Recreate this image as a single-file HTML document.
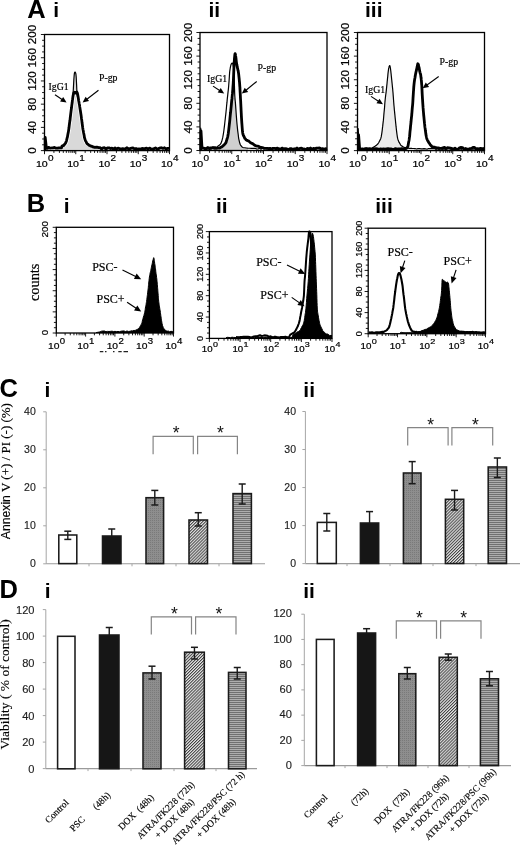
<!DOCTYPE html>
<html><head><meta charset="utf-8"><style>
html,body{margin:0;padding:0;background:#fff;}
body{width:520px;height:846px;overflow:hidden;}
svg{display:block;will-change:transform;}
</style></head><body>
<svg width="520" height="846" viewBox="0 0 520 846">
<defs>
<pattern id="pgray" width="2" height="2" patternUnits="userSpaceOnUse"><rect width="2" height="2" fill="#8e8e8e"/><rect width="1" height="1" fill="#7a7a7a"/></pattern>
<pattern id="phatch" width="2.15" height="2.15" patternUnits="userSpaceOnUse" patternTransform="rotate(45)"><rect width="2.15" height="2.15" fill="#e6e6e6"/><rect width="1.0" height="2.15" fill="#404040"/></pattern>
<pattern id="phoriz" width="4" height="2" patternUnits="userSpaceOnUse"><rect width="4" height="2" fill="#adadad"/><rect width="4" height="1" fill="#707070"/></pattern>
</defs>
<rect width="520" height="846" fill="#fff"/>
<text id="lA" x="27.30" y="17.75" font-family='"Liberation Sans", sans-serif' font-size="25.5" font-weight="bold" text-anchor="start" fill="#000">A</text>
<text id="nAi" x="53.35" y="16.80" font-family='"Liberation Sans", sans-serif' font-size="21" font-weight="bold" text-anchor="start" fill="#000">i</text>
<text id="nAii" x="208.50" y="17.30" font-family='"Liberation Sans", sans-serif' font-size="21" font-weight="bold" text-anchor="start" fill="#000">ii</text>
<text id="nAiii" x="365.00" y="16.80" font-family='"Liberation Sans", sans-serif' font-size="21" font-weight="bold" text-anchor="start" fill="#000">iii</text>
<text id="lB" x="26.75" y="212.30" font-family='"Liberation Sans", sans-serif' font-size="25.5" font-weight="bold" text-anchor="start" fill="#000">B</text>
<text id="nBi" x="63.75" y="212.80" font-family='"Liberation Sans", sans-serif' font-size="21" font-weight="bold" text-anchor="start" fill="#000">i</text>
<text id="nBii" x="216.00" y="212.50" font-family='"Liberation Sans", sans-serif' font-size="21" font-weight="bold" text-anchor="start" fill="#000">ii</text>
<text id="nBiii" x="375.25" y="212.50" font-family='"Liberation Sans", sans-serif' font-size="21" font-weight="bold" text-anchor="start" fill="#000">iii</text>
<text id="lC" x="-0.55" y="396.50" font-family='"Liberation Sans", sans-serif' font-size="25.5" font-weight="bold" text-anchor="start" fill="#000">C</text>
<text id="nCi" x="44.60" y="397.35" font-family='"Liberation Sans", sans-serif' font-size="21" font-weight="bold" text-anchor="start" fill="#000">i</text>
<text id="nCii" x="303.35" y="397.00" font-family='"Liberation Sans", sans-serif' font-size="21" font-weight="bold" text-anchor="start" fill="#000">ii</text>
<text id="lD" x="-0.55" y="597.75" font-family='"Liberation Sans", sans-serif' font-size="25.5" font-weight="bold" text-anchor="start" fill="#000">D</text>
<text id="nDi" x="44.80" y="597.80" font-family='"Liberation Sans", sans-serif' font-size="21" font-weight="bold" text-anchor="start" fill="#000">i</text>
<text id="nDii" x="303.25" y="598.40" font-family='"Liberation Sans", sans-serif' font-size="21" font-weight="bold" text-anchor="start" fill="#000">ii</text>
<path d="M45.20,150.40L45.20,137.50L46.20,146.50L47.50,148.30L48.50,147.40L50.00,148.03L51.50,147.96L53.00,147.77L54.50,147.46L56.00,148.15L57.50,148.17L59.00,147.81L60.50,147.81L61.50,147.80L62.00,146.10L62.37,145.93L62.91,145.73L63.49,145.48L64.00,144.86L64.41,144.43L64.79,144.03L65.15,143.72L65.50,142.86L65.84,142.37L66.17,141.53L66.49,140.41L66.80,139.51L67.11,138.27L67.42,136.90L67.72,135.69L68.00,133.84L68.26,132.28L68.51,131.05L68.75,129.18L69.00,127.38L69.25,125.64L69.50,123.79L69.75,122.12L70.00,119.88L70.25,117.92L70.50,116.07L70.75,114.03L71.00,112.18L71.25,110.11L71.51,107.88L71.76,105.81L72.00,104.13L72.22,102.42L72.42,100.37L72.62,98.96L72.80,97.15L72.97,94.95L73.12,92.51L73.26,90.42L73.40,88.09L73.53,85.56L73.65,83.38L73.77,80.94L73.90,78.82L74.04,77.05L74.18,75.30L74.33,73.84L74.50,72.86L74.71,72.31L74.94,72.12L75.18,72.19L75.40,72.50L75.59,72.92L75.78,73.48L75.94,74.47L76.10,76.05L76.24,77.90L76.36,80.24L76.48,82.46L76.60,84.88L76.71,87.49L76.81,89.73L76.93,92.04L77.10,93.84L77.33,95.69L77.61,97.41L77.91,98.70L78.20,100.20L78.48,101.16L78.76,102.45L79.03,103.79L79.30,104.98L79.56,106.62L79.81,108.15L80.05,109.65L80.30,111.34L80.55,113.40L80.80,114.79L81.05,116.58L81.30,118.43L81.55,120.45L81.80,122.42L82.05,124.17L82.30,126.00L82.54,127.82L82.78,129.25L83.03,130.88L83.30,132.55L83.59,134.14L83.91,135.47L84.24,137.00L84.60,138.36L84.97,139.76L85.36,140.78L85.80,141.82L86.30,142.61L86.87,143.22L87.51,144.16L88.21,144.91L89.00,145.24L89.84,145.59L90.73,146.13L91.76,146.42L93.00,146.67L94.70,146.87L96.75,147.09L98.67,147.54L100.00,147.32L101.50,149.04L103.00,147.90L104.50,147.73L106.00,149.10L107.50,147.96L109.00,147.87L110.50,148.61L112.00,148.18L113.50,148.95L115.00,148.02L116.50,149.04L118.00,148.15L119.50,148.54L121.00,149.00L122.50,148.66L124.00,148.99L125.50,148.69L127.00,147.77L128.50,148.93L130.00,148.53L131.50,148.13L133.00,147.97L134.50,148.89L136.00,148.52L137.50,149.01L139.00,148.78L140.50,149.05L142.00,148.49L143.50,148.68L145.00,148.56L146.50,148.06L148.00,149.04L149.50,148.14L151.00,148.79L152.50,149.04L154.00,148.61L155.50,147.90L157.00,148.86L158.50,148.63L160.00,147.96L161.50,147.77L163.00,148.44L164.50,147.75L166.00,149.00L167.50,148.41L169.00,148.42L169.50,148.40L169.50,150.60L45.20,150.60Z" fill="#d9d9d9" stroke="none"/>
<path d="M64.00,145.00L64.41,144.74L64.79,143.86L65.15,143.63L65.50,143.24L65.84,142.29L66.17,141.78L66.49,140.82L66.80,139.41L67.11,137.94L67.42,137.12L67.72,135.23L68.00,133.66L68.26,132.63L68.51,131.11L68.75,129.45L69.00,127.82L69.25,125.50L69.50,123.55L69.75,121.67L70.00,120.33L70.25,117.76L70.50,115.79L70.75,113.68L71.00,111.68L71.25,109.64L71.51,107.80L71.76,105.66L72.00,103.87L72.21,102.51L72.41,100.27L72.60,99.13L72.80,97.67L73.00,96.31L73.19,95.22L73.39,94.43L73.60,93.56L73.84,92.77L74.09,92.49L74.35,92.22L74.60,92.23L74.85,92.72L75.10,92.57L75.35,92.58L75.60,92.98L75.85,93.07L76.11,92.51L76.36,92.41L76.60,91.91L76.83,92.04L77.06,92.74L77.28,92.77L77.50,93.66L77.72,94.75L77.94,95.91L78.16,97.23L78.40,98.65L78.66,100.75L78.94,102.05L79.23,103.76L79.50,104.99L79.76,106.90L80.01,108.44L80.25,109.91L80.50,111.52L80.75,113.21L81.00,114.75L81.25,116.62L81.50,118.66L81.75,120.15L82.00,122.53L82.25,124.19L82.50,126.07L82.74,127.93L82.98,129.45L83.23,130.68L83.50,132.32L83.79,133.73L84.11,135.33L84.44,137.47L84.80,138.57L85.18,140.00L85.57,140.90L86.01,141.50L86.50,142.83L87.03,143.61L87.61,144.03" fill="none" stroke="#fff" stroke-width="4.3" stroke-linejoin="round" stroke-linecap="butt"/>
<path d="M45.20,150.40L45.20,137.50L46.20,146.50L47.50,148.30L48.50,147.40L50.00,148.03L51.50,147.96L53.00,147.77L54.50,147.46L56.00,148.15L57.50,148.17L59.00,147.81L60.50,147.81L61.50,147.80L62.00,146.00L62.37,145.88L62.91,145.64L63.49,145.68L64.00,145.00L64.41,144.74L64.79,143.86L65.15,143.63L65.50,143.24L65.84,142.29L66.17,141.78L66.49,140.82L66.80,139.41L67.11,137.94L67.42,137.12L67.72,135.23L68.00,133.66L68.26,132.63L68.51,131.11L68.75,129.45L69.00,127.82L69.25,125.50L69.50,123.55L69.75,121.67L70.00,120.33L70.25,117.76L70.50,115.79L70.75,113.68L71.00,111.68L71.25,109.64L71.51,107.80L71.76,105.66L72.00,103.87L72.21,102.51L72.41,100.27L72.60,99.13L72.80,97.67L73.00,96.31L73.19,95.22L73.39,94.43L73.60,93.56L73.84,92.77L74.09,92.49L74.35,92.22L74.60,92.23L74.85,92.72L75.10,92.57L75.35,92.58L75.60,92.98L75.85,93.07L76.11,92.51L76.36,92.41L76.60,91.91L76.83,92.04L77.06,92.74L77.28,92.77L77.50,93.66L77.72,94.75L77.94,95.91L78.16,97.23L78.40,98.65L78.66,100.75L78.94,102.05L79.23,103.76L79.50,104.99L79.76,106.90L80.01,108.44L80.25,109.91L80.50,111.52L80.75,113.21L81.00,114.75L81.25,116.62L81.50,118.66L81.75,120.15L82.00,122.53L82.25,124.19L82.50,126.07L82.74,127.93L82.98,129.45L83.23,130.68L83.50,132.32L83.79,133.73L84.11,135.33L84.44,137.47L84.80,138.57L85.18,140.00L85.57,140.90L86.01,141.50L86.50,142.83L87.03,143.61L87.61,144.03L88.25,144.43L89.00,145.17L89.82,145.55L90.72,146.09L91.75,146.22L93.00,146.95L94.70,147.38L96.75,147.04L98.67,147.59L100.00,147.56L101.50,149.04L103.00,147.90L104.50,147.73L106.00,149.10L107.50,147.96L109.00,147.87L110.50,148.61L112.00,148.18L113.50,148.95L115.00,148.02L116.50,149.04L118.00,148.15L119.50,148.54L121.00,149.00L122.50,148.66L124.00,148.99L125.50,148.69L127.00,147.77L128.50,148.93L130.00,148.53L131.50,148.13L133.00,147.97L134.50,148.89L136.00,148.52L137.50,149.01L139.00,148.78L140.50,149.05L142.00,148.49L143.50,148.68L145.00,148.56L146.50,148.06L148.00,149.04L149.50,148.14L151.00,148.79L152.50,149.04L154.00,148.61L155.50,147.90L157.00,148.86L158.50,148.63L160.00,147.96L161.50,147.77L163.00,148.44L164.50,147.75L166.00,149.00L167.50,148.41L169.00,148.42L169.50,148.40" fill="none" stroke="#000" stroke-width="2.8" stroke-linejoin="round" stroke-linecap="butt"/>
<path d="M72.00,104.13L72.22,102.42L72.42,100.37L72.62,98.96L72.80,97.15L72.97,94.95L73.12,92.51L73.26,90.42L73.40,88.09L73.53,85.56L73.65,83.38L73.77,80.94L73.90,78.82L74.04,77.05L74.18,75.30L74.33,73.84L74.50,72.86L74.71,72.31L74.94,72.12L75.18,72.19L75.40,72.50L75.59,72.92L75.78,73.48L75.94,74.47L76.10,76.05L76.24,77.90L76.36,80.24L76.48,82.46L76.60,84.88L76.71,87.49L76.81,89.73L76.93,92.04L77.10,93.84L77.33,95.69L77.61,97.41L77.91,98.70" fill="none" stroke="#000" stroke-width="1.2" stroke-linejoin="round" stroke-linecap="butt"/>
<rect x="44.5" y="34.5" width="125.00" height="116.10" fill="none" stroke="#000" stroke-width="1.3"/>
<line x1="40.90" y1="150.60" x2="44.50" y2="150.60" stroke="#000" stroke-width="0.9"/>
<line x1="42.10" y1="144.79" x2="44.50" y2="144.79" stroke="#000" stroke-width="0.9"/>
<line x1="42.10" y1="138.99" x2="44.50" y2="138.99" stroke="#000" stroke-width="0.9"/>
<line x1="42.10" y1="133.19" x2="44.50" y2="133.19" stroke="#000" stroke-width="0.9"/>
<line x1="40.90" y1="127.38" x2="44.50" y2="127.38" stroke="#000" stroke-width="0.9"/>
<line x1="42.10" y1="121.57" x2="44.50" y2="121.57" stroke="#000" stroke-width="0.9"/>
<line x1="42.10" y1="115.77" x2="44.50" y2="115.77" stroke="#000" stroke-width="0.9"/>
<line x1="42.10" y1="109.97" x2="44.50" y2="109.97" stroke="#000" stroke-width="0.9"/>
<line x1="40.90" y1="104.16" x2="44.50" y2="104.16" stroke="#000" stroke-width="0.9"/>
<line x1="42.10" y1="98.35" x2="44.50" y2="98.35" stroke="#000" stroke-width="0.9"/>
<line x1="42.10" y1="92.55" x2="44.50" y2="92.55" stroke="#000" stroke-width="0.9"/>
<line x1="42.10" y1="86.75" x2="44.50" y2="86.75" stroke="#000" stroke-width="0.9"/>
<line x1="40.90" y1="80.94" x2="44.50" y2="80.94" stroke="#000" stroke-width="0.9"/>
<line x1="42.10" y1="75.13" x2="44.50" y2="75.13" stroke="#000" stroke-width="0.9"/>
<line x1="42.10" y1="69.33" x2="44.50" y2="69.33" stroke="#000" stroke-width="0.9"/>
<line x1="42.10" y1="63.52" x2="44.50" y2="63.52" stroke="#000" stroke-width="0.9"/>
<line x1="40.90" y1="57.72" x2="44.50" y2="57.72" stroke="#000" stroke-width="0.9"/>
<line x1="42.10" y1="51.91" x2="44.50" y2="51.91" stroke="#000" stroke-width="0.9"/>
<line x1="42.10" y1="46.11" x2="44.50" y2="46.11" stroke="#000" stroke-width="0.9"/>
<line x1="42.10" y1="40.30" x2="44.50" y2="40.30" stroke="#000" stroke-width="0.9"/>
<line x1="40.90" y1="34.50" x2="44.50" y2="34.50" stroke="#000" stroke-width="0.9"/>
<text transform="translate(36.20 150.60) rotate(-90) scale(1.17 1)" x="0" y="0" font-family='"Liberation Sans", sans-serif' font-size="10" text-anchor="middle" stroke="#000" stroke-width="0.2">0</text>
<text transform="translate(36.20 127.38) rotate(-90) scale(1.17 1)" x="0" y="0" font-family='"Liberation Sans", sans-serif' font-size="10" text-anchor="middle" stroke="#000" stroke-width="0.2">40</text>
<text transform="translate(36.20 104.16) rotate(-90) scale(1.17 1)" x="0" y="0" font-family='"Liberation Sans", sans-serif' font-size="10" text-anchor="middle" stroke="#000" stroke-width="0.2">80</text>
<text transform="translate(36.20 80.94) rotate(-90) scale(1.17 1)" x="0" y="0" font-family='"Liberation Sans", sans-serif' font-size="10" text-anchor="middle" stroke="#000" stroke-width="0.2">120</text>
<text transform="translate(36.20 57.72) rotate(-90) scale(1.17 1)" x="0" y="0" font-family='"Liberation Sans", sans-serif' font-size="10" text-anchor="middle" stroke="#000" stroke-width="0.2">160</text>
<text transform="translate(36.20 34.50) rotate(-90) scale(1.17 1)" x="0" y="0" font-family='"Liberation Sans", sans-serif' font-size="10" text-anchor="middle" stroke="#000" stroke-width="0.2">200</text>
<line x1="44.50" y1="150.60" x2="44.50" y2="154.20" stroke="#000" stroke-width="0.9"/>
<line x1="53.91" y1="150.60" x2="53.91" y2="152.90" stroke="#000" stroke-width="0.9"/>
<line x1="59.41" y1="150.60" x2="59.41" y2="152.90" stroke="#000" stroke-width="0.9"/>
<line x1="63.31" y1="150.60" x2="63.31" y2="152.90" stroke="#000" stroke-width="0.9"/>
<line x1="66.34" y1="150.60" x2="66.34" y2="152.90" stroke="#000" stroke-width="0.9"/>
<line x1="68.82" y1="150.60" x2="68.82" y2="152.90" stroke="#000" stroke-width="0.9"/>
<line x1="70.91" y1="150.60" x2="70.91" y2="152.90" stroke="#000" stroke-width="0.9"/>
<line x1="72.72" y1="150.60" x2="72.72" y2="152.90" stroke="#000" stroke-width="0.9"/>
<line x1="74.32" y1="150.60" x2="74.32" y2="152.90" stroke="#000" stroke-width="0.9"/>
<line x1="75.75" y1="150.60" x2="75.75" y2="154.20" stroke="#000" stroke-width="0.9"/>
<line x1="85.16" y1="150.60" x2="85.16" y2="152.90" stroke="#000" stroke-width="0.9"/>
<line x1="90.66" y1="150.60" x2="90.66" y2="152.90" stroke="#000" stroke-width="0.9"/>
<line x1="94.56" y1="150.60" x2="94.56" y2="152.90" stroke="#000" stroke-width="0.9"/>
<line x1="97.59" y1="150.60" x2="97.59" y2="152.90" stroke="#000" stroke-width="0.9"/>
<line x1="100.07" y1="150.60" x2="100.07" y2="152.90" stroke="#000" stroke-width="0.9"/>
<line x1="102.16" y1="150.60" x2="102.16" y2="152.90" stroke="#000" stroke-width="0.9"/>
<line x1="103.97" y1="150.60" x2="103.97" y2="152.90" stroke="#000" stroke-width="0.9"/>
<line x1="105.57" y1="150.60" x2="105.57" y2="152.90" stroke="#000" stroke-width="0.9"/>
<line x1="107.00" y1="150.60" x2="107.00" y2="154.20" stroke="#000" stroke-width="0.9"/>
<line x1="116.41" y1="150.60" x2="116.41" y2="152.90" stroke="#000" stroke-width="0.9"/>
<line x1="121.91" y1="150.60" x2="121.91" y2="152.90" stroke="#000" stroke-width="0.9"/>
<line x1="125.81" y1="150.60" x2="125.81" y2="152.90" stroke="#000" stroke-width="0.9"/>
<line x1="128.84" y1="150.60" x2="128.84" y2="152.90" stroke="#000" stroke-width="0.9"/>
<line x1="131.32" y1="150.60" x2="131.32" y2="152.90" stroke="#000" stroke-width="0.9"/>
<line x1="133.41" y1="150.60" x2="133.41" y2="152.90" stroke="#000" stroke-width="0.9"/>
<line x1="135.22" y1="150.60" x2="135.22" y2="152.90" stroke="#000" stroke-width="0.9"/>
<line x1="136.82" y1="150.60" x2="136.82" y2="152.90" stroke="#000" stroke-width="0.9"/>
<line x1="138.25" y1="150.60" x2="138.25" y2="154.20" stroke="#000" stroke-width="0.9"/>
<line x1="147.66" y1="150.60" x2="147.66" y2="152.90" stroke="#000" stroke-width="0.9"/>
<line x1="153.16" y1="150.60" x2="153.16" y2="152.90" stroke="#000" stroke-width="0.9"/>
<line x1="157.06" y1="150.60" x2="157.06" y2="152.90" stroke="#000" stroke-width="0.9"/>
<line x1="160.09" y1="150.60" x2="160.09" y2="152.90" stroke="#000" stroke-width="0.9"/>
<line x1="162.57" y1="150.60" x2="162.57" y2="152.90" stroke="#000" stroke-width="0.9"/>
<line x1="164.66" y1="150.60" x2="164.66" y2="152.90" stroke="#000" stroke-width="0.9"/>
<line x1="166.47" y1="150.60" x2="166.47" y2="152.90" stroke="#000" stroke-width="0.9"/>
<line x1="168.07" y1="150.60" x2="168.07" y2="152.90" stroke="#000" stroke-width="0.9"/>
<line x1="169.50" y1="150.60" x2="169.50" y2="154.20" stroke="#000" stroke-width="0.9"/>
<text transform="translate(47.70 166.90) rotate(0) scale(1.22 1)" x="0" y="0" font-family='"Liberation Sans", sans-serif' font-size="8.7" text-anchor="end" stroke="#000" stroke-width="0.2">10</text>
<text transform="translate(48.00 161.20) rotate(0) scale(1.22 1)" x="0" y="0" font-family='"Liberation Sans", sans-serif' font-size="8.2" text-anchor="start" stroke="#000" stroke-width="0.2">0</text>
<text transform="translate(78.95 166.90) rotate(0) scale(1.22 1)" x="0" y="0" font-family='"Liberation Sans", sans-serif' font-size="8.7" text-anchor="end" stroke="#000" stroke-width="0.2">10</text>
<text transform="translate(79.25 161.20) rotate(0) scale(1.22 1)" x="0" y="0" font-family='"Liberation Sans", sans-serif' font-size="8.2" text-anchor="start" stroke="#000" stroke-width="0.2">1</text>
<text transform="translate(110.20 166.90) rotate(0) scale(1.22 1)" x="0" y="0" font-family='"Liberation Sans", sans-serif' font-size="8.7" text-anchor="end" stroke="#000" stroke-width="0.2">10</text>
<text transform="translate(110.50 161.20) rotate(0) scale(1.22 1)" x="0" y="0" font-family='"Liberation Sans", sans-serif' font-size="8.2" text-anchor="start" stroke="#000" stroke-width="0.2">2</text>
<text transform="translate(141.45 166.90) rotate(0) scale(1.22 1)" x="0" y="0" font-family='"Liberation Sans", sans-serif' font-size="8.7" text-anchor="end" stroke="#000" stroke-width="0.2">10</text>
<text transform="translate(141.75 161.20) rotate(0) scale(1.22 1)" x="0" y="0" font-family='"Liberation Sans", sans-serif' font-size="8.2" text-anchor="start" stroke="#000" stroke-width="0.2">3</text>
<text transform="translate(172.70 166.90) rotate(0) scale(1.22 1)" x="0" y="0" font-family='"Liberation Sans", sans-serif' font-size="8.7" text-anchor="end" stroke="#000" stroke-width="0.2">10</text>
<text transform="translate(173.00 161.20) rotate(0) scale(1.22 1)" x="0" y="0" font-family='"Liberation Sans", sans-serif' font-size="8.2" text-anchor="start" stroke="#000" stroke-width="0.2">4</text>
<text id="tAi1" x="48.50" y="90.00" font-family='"Liberation Serif", serif' font-size="9.8" font-weight="normal" text-anchor="start" fill="#000" stroke="#000" stroke-width="0.2">IgG1</text>
<text id="tAi2" x="99.00" y="80.80" font-family='"Liberation Serif", serif' font-size="9.8" font-weight="normal" text-anchor="start" fill="#000" stroke="#000" stroke-width="0.2">P-gp</text>
<line x1="55.00" y1="94.80" x2="62.45" y2="99.81" stroke="#000" stroke-width="1.1"/>
<polygon points="66.60,102.60 60.06,101.58 63.18,96.93" fill="#000"/>
<line x1="98.50" y1="90.20" x2="86.54" y2="99.53" stroke="#000" stroke-width="1.1"/>
<polygon points="82.60,102.60 85.61,96.70 89.05,101.12" fill="#000"/>
<path d="M219.00,148.00L219.25,147.94L219.50,147.88L219.75,147.82L220.00,147.77L220.25,147.58L220.50,147.40L220.75,147.21L221.00,147.10L221.25,147.11L221.50,147.13L221.75,147.07L222.00,146.79L222.25,146.51L222.50,146.27L222.75,146.07L223.00,145.86L223.25,145.61L223.50,145.36L223.75,145.22L224.00,145.13L224.25,144.85L224.50,144.44L224.75,144.12L225.00,143.84L225.25,143.60L225.50,143.32L225.75,142.95L226.00,142.42L226.25,141.70L226.50,140.71L226.75,139.92L227.00,139.12L227.25,138.30L227.50,137.43L227.75,136.44L228.00,135.12L228.25,133.62L228.50,131.59L228.75,129.64L229.00,127.40L229.25,125.13L229.50,123.02L229.75,120.63L230.00,117.97L230.25,115.41L230.50,113.04L230.75,110.60L231.00,108.17L231.25,105.63L231.50,102.79L231.75,100.32L232.00,98.33L232.25,98.00L232.50,98.00L232.75,98.00L233.00,98.00L233.25,98.00L233.50,98.00L233.75,98.00L234.00,98.00L234.25,98.00L234.50,98.00L234.75,98.00L235.00,98.66L235.25,101.12L235.50,104.00L235.75,107.44L236.00,111.02L236.25,114.72L236.50,118.02L236.75,121.13L237.00,124.00L237.25,126.41L237.50,128.95L237.75,131.13L238.00,132.99L238.25,134.85L238.50,136.94L238.75,138.73L239.00,139.93L239.25,141.01L239.50,142.04L239.75,143.01L240.00,143.92L240.25,144.51L240.50,145.05L240.75,145.38L241.00,145.71L241.25,146.04L241.50,146.38L241.75,146.62L242.00,146.83L242.25,147.03L242.50,147.18L242.75,147.33L243.00,147.49L243.25,147.55L243.50,147.62L243.75,147.69L244.00,147.73L244.25,147.74L244.50,147.74L244.75,147.75L245.00,147.76L245.25,147.82L245.50,147.88L245.75,147.93L246.00,147.99L246.25,148.03L246.50,148.06L246.75,148.09L247.00,148.11L247.25,148.14L247.50,148.17L247.75,148.18L248.00,148.19L248.00,149.90L219.00,149.90Z" fill="#d0d0d0"/>
<path d="M200.70,150.30L200.70,128.00L201.70,147.50L203.00,147.81L204.50,147.84L206.00,147.77L207.50,146.80L209.00,147.41L210.50,147.21L212.00,147.34L213.50,146.86L215.00,146.93L216.50,147.23L217.00,147.30L218.00,146.03L218.37,145.81L218.91,145.53L219.49,144.89L220.00,144.56L220.41,144.18L220.78,143.69L221.14,142.77L221.50,142.06L221.88,140.84L222.27,139.35L222.65,137.91L223.00,136.01L223.33,134.10L223.64,132.24L223.94,130.03L224.20,127.92L224.42,126.15L224.61,124.56L224.80,122.69L225.00,121.04L225.24,118.96L225.50,116.53L225.76,114.37L226.00,112.17L226.21,109.95L226.41,108.01L226.60,105.82L226.80,103.82L227.00,102.19L227.19,99.91L227.39,97.89L227.60,96.16L227.82,94.12L228.06,91.91L228.29,90.00L228.50,87.90L228.69,85.71L228.87,83.30L229.04,81.21L229.20,78.92L229.35,76.83L229.48,74.66L229.62,72.64L229.80,70.81L230.02,69.52L230.26,67.99L230.53,66.62L230.80,65.35L231.09,64.48L231.40,63.77L231.71,63.37L232.00,63.02L232.27,63.08L232.53,63.24L232.77,63.67L233.00,64.56L233.22,65.50L233.44,66.82L233.63,68.29L233.80,70.02L233.93,71.89L234.03,73.64L234.12,75.63L234.20,77.99L234.28,80.36L234.36,83.11L234.43,85.44L234.50,88.15L234.57,89.95L234.63,92.14L234.70,94.02L234.80,95.93L234.95,98.11L235.12,99.96L235.32,101.72L235.50,104.00L235.67,106.40L235.84,108.69L236.02,111.29L236.20,114.04L236.39,116.62L236.58,119.05L236.78,121.54L237.00,124.00L237.24,126.27L237.49,128.84L237.75,131.10L238.00,132.99L238.24,134.75L238.47,136.71L238.71,138.56L239.00,139.93L239.32,141.30L239.66,142.67L240.04,144.07L240.50,145.05L241.01,145.72L241.56,146.47L242.21,147.01L243.00,147.49L243.91,147.73L244.94,147.75L246.12,148.01L247.50,148.17L249.34,148.26L251.53,148.29L253.58,148.29L255.00,148.30L256.50,148.85L258.00,149.01L259.50,148.22L261.00,149.20L262.50,148.23L264.00,148.81L265.50,148.11L267.00,148.91L268.50,148.18L270.00,148.85L271.50,148.87L273.00,148.92L274.50,148.53L276.00,149.04L277.50,149.19L279.00,148.14L280.50,148.62L282.00,149.15L283.50,148.89L285.00,148.53L286.50,148.37L288.00,149.14L289.50,148.10L291.00,148.91L292.50,149.01L294.00,148.19L295.50,148.39L297.00,148.37L298.50,148.65L300.00,148.44L301.50,149.07L303.00,149.11L304.50,148.38L306.00,149.07L307.50,148.08L309.00,148.12L310.50,148.80L312.00,148.96L313.50,148.98L315.00,149.19L316.50,149.03L318.00,148.32L319.50,148.89L321.00,149.11L322.50,148.11L324.00,148.59L325.50,148.19L327.00,148.60" fill="none" stroke="#000" stroke-width="1.2" stroke-linejoin="round" stroke-linecap="butt"/>
<path d="M200.90,150.30L201.00,131.00L202.00,148.00L203.50,148.15L205.00,148.81L206.50,148.71L208.00,147.96L209.50,148.75L211.00,148.46L212.50,147.75L214.00,148.30L215.00,148.32L215.95,148.23L217.31,148.23L218.77,148.05L220.00,147.77L220.91,147.09L221.69,147.14L222.37,146.37L223.00,145.86L223.58,145.27L224.09,145.10L224.56,144.34L225.00,143.84L225.41,143.44L225.79,142.88L226.15,142.09L226.50,140.71L226.85,139.61L227.19,138.52L227.51,137.40L227.80,136.24L228.06,134.80L228.28,133.43L228.49,131.66L228.70,130.10L228.91,128.17L229.11,126.43L229.31,124.57L229.50,123.02L229.68,121.35L229.85,119.61L230.02,117.74L230.20,115.95L230.39,113.89L230.59,112.28L230.80,110.08L231.00,108.17L231.20,106.19L231.41,103.78L231.61,101.66L231.80,99.85L231.98,98.49L232.16,96.70L232.33,94.73L232.50,93.19L232.66,90.94L232.82,89.26L232.97,86.67L233.10,85.17L233.22,83.52L233.32,81.38L233.41,79.70L233.50,77.74L233.58,76.09L233.66,74.31L233.73,72.61L233.80,70.70L233.87,69.11L233.94,67.22L234.01,65.77L234.10,63.93L234.21,61.98L234.34,60.59L234.47,58.37L234.60,57.02L234.72,55.99L234.84,54.77L234.96,54.13L235.10,53.58L235.26,54.07L235.43,54.32L235.61,55.91L235.80,56.89L235.99,58.34L236.19,60.38L236.39,62.11L236.60,63.39L236.82,64.66L237.04,65.69L237.27,67.19L237.50,68.08L237.75,69.02L238.01,70.43L238.27,71.36L238.50,72.84L238.70,74.41L238.88,76.21L239.04,77.66L239.20,79.03L239.36,80.86L239.52,82.26L239.67,84.36L239.80,86.35L239.91,87.41L240.00,89.55L240.09,91.31L240.20,92.91L240.34,95.67L240.49,98.53L240.65,100.84L240.80,103.98L240.95,107.07L241.10,110.33L241.25,113.02L241.40,116.18L241.55,118.63L241.69,121.00L241.84,123.05L242.00,125.25L242.15,127.24L242.31,129.36L242.48,131.30L242.70,132.93L242.97,134.22L243.27,135.17L243.61,135.86L244.00,136.45L244.40,137.40L244.83,138.49L245.34,138.71L246.00,139.84L246.83,140.36L247.79,140.68L248.86,141.12L250.00,142.27L251.25,143.15L252.61,143.62L253.99,144.77L255.30,145.58L256.53,146.03L257.73,146.08L258.89,146.50L260.00,147.16L261.00,147.40L261.92,147.69L262.88,147.65L264.00,148.27L265.50,148.37L267.25,148.30L268.88,148.67L270.00,148.36L271.50,149.05L273.00,148.28L274.50,148.29L276.00,148.84L277.50,148.08L279.00,149.09L280.50,149.07L282.00,148.06L283.50,148.96L285.00,148.70L286.50,148.89L288.00,149.34L289.50,149.38L291.00,148.57L292.50,149.18L294.00,149.10L295.50,149.36L297.00,148.04L298.50,149.31L300.00,148.31L301.50,148.18L303.00,148.84L304.50,149.17L306.00,149.34L307.50,148.51L309.00,149.16L310.50,148.04L312.00,149.36L313.50,148.41L315.00,148.76L316.50,148.17L318.00,148.06L319.50,148.01L321.00,148.84L322.50,148.79L324.00,149.14L325.50,149.19L327.00,148.70" fill="none" stroke="#000" stroke-width="2.8" stroke-linejoin="round" stroke-linecap="butt"/>
<rect x="200" y="32.5" width="127.00" height="118.00" fill="none" stroke="#000" stroke-width="1.3"/>
<line x1="196.40" y1="150.50" x2="200.00" y2="150.50" stroke="#000" stroke-width="0.9"/>
<line x1="197.60" y1="144.60" x2="200.00" y2="144.60" stroke="#000" stroke-width="0.9"/>
<line x1="197.60" y1="138.70" x2="200.00" y2="138.70" stroke="#000" stroke-width="0.9"/>
<line x1="197.60" y1="132.80" x2="200.00" y2="132.80" stroke="#000" stroke-width="0.9"/>
<line x1="196.40" y1="126.90" x2="200.00" y2="126.90" stroke="#000" stroke-width="0.9"/>
<line x1="197.60" y1="121.00" x2="200.00" y2="121.00" stroke="#000" stroke-width="0.9"/>
<line x1="197.60" y1="115.10" x2="200.00" y2="115.10" stroke="#000" stroke-width="0.9"/>
<line x1="197.60" y1="109.20" x2="200.00" y2="109.20" stroke="#000" stroke-width="0.9"/>
<line x1="196.40" y1="103.30" x2="200.00" y2="103.30" stroke="#000" stroke-width="0.9"/>
<line x1="197.60" y1="97.40" x2="200.00" y2="97.40" stroke="#000" stroke-width="0.9"/>
<line x1="197.60" y1="91.50" x2="200.00" y2="91.50" stroke="#000" stroke-width="0.9"/>
<line x1="197.60" y1="85.60" x2="200.00" y2="85.60" stroke="#000" stroke-width="0.9"/>
<line x1="196.40" y1="79.70" x2="200.00" y2="79.70" stroke="#000" stroke-width="0.9"/>
<line x1="197.60" y1="73.80" x2="200.00" y2="73.80" stroke="#000" stroke-width="0.9"/>
<line x1="197.60" y1="67.90" x2="200.00" y2="67.90" stroke="#000" stroke-width="0.9"/>
<line x1="197.60" y1="62.00" x2="200.00" y2="62.00" stroke="#000" stroke-width="0.9"/>
<line x1="196.40" y1="56.10" x2="200.00" y2="56.10" stroke="#000" stroke-width="0.9"/>
<line x1="197.60" y1="50.20" x2="200.00" y2="50.20" stroke="#000" stroke-width="0.9"/>
<line x1="197.60" y1="44.30" x2="200.00" y2="44.30" stroke="#000" stroke-width="0.9"/>
<line x1="197.60" y1="38.40" x2="200.00" y2="38.40" stroke="#000" stroke-width="0.9"/>
<line x1="196.40" y1="32.50" x2="200.00" y2="32.50" stroke="#000" stroke-width="0.9"/>
<text transform="translate(191.70 150.50) rotate(-90) scale(1.17 1)" x="0" y="0" font-family='"Liberation Sans", sans-serif' font-size="10" text-anchor="middle" stroke="#000" stroke-width="0.2">0</text>
<text transform="translate(191.70 126.90) rotate(-90) scale(1.17 1)" x="0" y="0" font-family='"Liberation Sans", sans-serif' font-size="10" text-anchor="middle" stroke="#000" stroke-width="0.2">40</text>
<text transform="translate(191.70 103.30) rotate(-90) scale(1.17 1)" x="0" y="0" font-family='"Liberation Sans", sans-serif' font-size="10" text-anchor="middle" stroke="#000" stroke-width="0.2">80</text>
<text transform="translate(191.70 79.70) rotate(-90) scale(1.17 1)" x="0" y="0" font-family='"Liberation Sans", sans-serif' font-size="10" text-anchor="middle" stroke="#000" stroke-width="0.2">120</text>
<text transform="translate(191.70 56.10) rotate(-90) scale(1.17 1)" x="0" y="0" font-family='"Liberation Sans", sans-serif' font-size="10" text-anchor="middle" stroke="#000" stroke-width="0.2">160</text>
<text transform="translate(191.70 32.50) rotate(-90) scale(1.17 1)" x="0" y="0" font-family='"Liberation Sans", sans-serif' font-size="10" text-anchor="middle" stroke="#000" stroke-width="0.2">200</text>
<line x1="200.00" y1="150.50" x2="200.00" y2="154.10" stroke="#000" stroke-width="0.9"/>
<line x1="209.56" y1="150.50" x2="209.56" y2="152.80" stroke="#000" stroke-width="0.9"/>
<line x1="215.15" y1="150.50" x2="215.15" y2="152.80" stroke="#000" stroke-width="0.9"/>
<line x1="219.12" y1="150.50" x2="219.12" y2="152.80" stroke="#000" stroke-width="0.9"/>
<line x1="222.19" y1="150.50" x2="222.19" y2="152.80" stroke="#000" stroke-width="0.9"/>
<line x1="224.71" y1="150.50" x2="224.71" y2="152.80" stroke="#000" stroke-width="0.9"/>
<line x1="226.83" y1="150.50" x2="226.83" y2="152.80" stroke="#000" stroke-width="0.9"/>
<line x1="228.67" y1="150.50" x2="228.67" y2="152.80" stroke="#000" stroke-width="0.9"/>
<line x1="230.30" y1="150.50" x2="230.30" y2="152.80" stroke="#000" stroke-width="0.9"/>
<line x1="231.75" y1="150.50" x2="231.75" y2="154.10" stroke="#000" stroke-width="0.9"/>
<line x1="241.31" y1="150.50" x2="241.31" y2="152.80" stroke="#000" stroke-width="0.9"/>
<line x1="246.90" y1="150.50" x2="246.90" y2="152.80" stroke="#000" stroke-width="0.9"/>
<line x1="250.87" y1="150.50" x2="250.87" y2="152.80" stroke="#000" stroke-width="0.9"/>
<line x1="253.94" y1="150.50" x2="253.94" y2="152.80" stroke="#000" stroke-width="0.9"/>
<line x1="256.46" y1="150.50" x2="256.46" y2="152.80" stroke="#000" stroke-width="0.9"/>
<line x1="258.58" y1="150.50" x2="258.58" y2="152.80" stroke="#000" stroke-width="0.9"/>
<line x1="260.42" y1="150.50" x2="260.42" y2="152.80" stroke="#000" stroke-width="0.9"/>
<line x1="262.05" y1="150.50" x2="262.05" y2="152.80" stroke="#000" stroke-width="0.9"/>
<line x1="263.50" y1="150.50" x2="263.50" y2="154.10" stroke="#000" stroke-width="0.9"/>
<line x1="273.06" y1="150.50" x2="273.06" y2="152.80" stroke="#000" stroke-width="0.9"/>
<line x1="278.65" y1="150.50" x2="278.65" y2="152.80" stroke="#000" stroke-width="0.9"/>
<line x1="282.62" y1="150.50" x2="282.62" y2="152.80" stroke="#000" stroke-width="0.9"/>
<line x1="285.69" y1="150.50" x2="285.69" y2="152.80" stroke="#000" stroke-width="0.9"/>
<line x1="288.21" y1="150.50" x2="288.21" y2="152.80" stroke="#000" stroke-width="0.9"/>
<line x1="290.33" y1="150.50" x2="290.33" y2="152.80" stroke="#000" stroke-width="0.9"/>
<line x1="292.17" y1="150.50" x2="292.17" y2="152.80" stroke="#000" stroke-width="0.9"/>
<line x1="293.80" y1="150.50" x2="293.80" y2="152.80" stroke="#000" stroke-width="0.9"/>
<line x1="295.25" y1="150.50" x2="295.25" y2="154.10" stroke="#000" stroke-width="0.9"/>
<line x1="304.81" y1="150.50" x2="304.81" y2="152.80" stroke="#000" stroke-width="0.9"/>
<line x1="310.40" y1="150.50" x2="310.40" y2="152.80" stroke="#000" stroke-width="0.9"/>
<line x1="314.37" y1="150.50" x2="314.37" y2="152.80" stroke="#000" stroke-width="0.9"/>
<line x1="317.44" y1="150.50" x2="317.44" y2="152.80" stroke="#000" stroke-width="0.9"/>
<line x1="319.96" y1="150.50" x2="319.96" y2="152.80" stroke="#000" stroke-width="0.9"/>
<line x1="322.08" y1="150.50" x2="322.08" y2="152.80" stroke="#000" stroke-width="0.9"/>
<line x1="323.92" y1="150.50" x2="323.92" y2="152.80" stroke="#000" stroke-width="0.9"/>
<line x1="325.55" y1="150.50" x2="325.55" y2="152.80" stroke="#000" stroke-width="0.9"/>
<line x1="327.00" y1="150.50" x2="327.00" y2="154.10" stroke="#000" stroke-width="0.9"/>
<text transform="translate(203.20 166.80) rotate(0) scale(1.22 1)" x="0" y="0" font-family='"Liberation Sans", sans-serif' font-size="8.7" text-anchor="end" stroke="#000" stroke-width="0.2">10</text>
<text transform="translate(203.50 161.10) rotate(0) scale(1.22 1)" x="0" y="0" font-family='"Liberation Sans", sans-serif' font-size="8.2" text-anchor="start" stroke="#000" stroke-width="0.2">0</text>
<text transform="translate(234.95 166.80) rotate(0) scale(1.22 1)" x="0" y="0" font-family='"Liberation Sans", sans-serif' font-size="8.7" text-anchor="end" stroke="#000" stroke-width="0.2">10</text>
<text transform="translate(235.25 161.10) rotate(0) scale(1.22 1)" x="0" y="0" font-family='"Liberation Sans", sans-serif' font-size="8.2" text-anchor="start" stroke="#000" stroke-width="0.2">1</text>
<text transform="translate(266.70 166.80) rotate(0) scale(1.22 1)" x="0" y="0" font-family='"Liberation Sans", sans-serif' font-size="8.7" text-anchor="end" stroke="#000" stroke-width="0.2">10</text>
<text transform="translate(267.00 161.10) rotate(0) scale(1.22 1)" x="0" y="0" font-family='"Liberation Sans", sans-serif' font-size="8.2" text-anchor="start" stroke="#000" stroke-width="0.2">2</text>
<text transform="translate(298.45 166.80) rotate(0) scale(1.22 1)" x="0" y="0" font-family='"Liberation Sans", sans-serif' font-size="8.7" text-anchor="end" stroke="#000" stroke-width="0.2">10</text>
<text transform="translate(298.75 161.10) rotate(0) scale(1.22 1)" x="0" y="0" font-family='"Liberation Sans", sans-serif' font-size="8.2" text-anchor="start" stroke="#000" stroke-width="0.2">3</text>
<text transform="translate(330.20 166.80) rotate(0) scale(1.22 1)" x="0" y="0" font-family='"Liberation Sans", sans-serif' font-size="8.7" text-anchor="end" stroke="#000" stroke-width="0.2">10</text>
<text transform="translate(330.50 161.10) rotate(0) scale(1.22 1)" x="0" y="0" font-family='"Liberation Sans", sans-serif' font-size="8.2" text-anchor="start" stroke="#000" stroke-width="0.2">4</text>
<text id="tAii1" x="207.00" y="82.20" font-family='"Liberation Serif", serif' font-size="9.8" font-weight="normal" text-anchor="start" fill="#000" stroke="#000" stroke-width="0.2">IgG1</text>
<text id="tAii2" x="257.60" y="70.50" font-family='"Liberation Serif", serif' font-size="9.8" font-weight="normal" text-anchor="start" fill="#000" stroke="#000" stroke-width="0.2">P-gp</text>
<line x1="213.00" y1="86.10" x2="220.05" y2="90.82" stroke="#000" stroke-width="1.1"/>
<polygon points="224.20,93.60 217.66,92.59 220.77,87.93" fill="#000"/>
<line x1="256.70" y1="81.50" x2="245.68" y2="90.45" stroke="#000" stroke-width="1.1"/>
<polygon points="241.80,93.60 244.69,87.64 248.22,91.99" fill="#000"/>
<path d="M358.20,150.30L358.20,128.70L359.20,147.80L360.50,148.45L362.00,148.50L363.50,148.76L365.00,148.00L366.50,147.87L368.00,148.62L369.50,148.13L371.00,148.30L372.00,148.02L372.20,148.00L372.48,147.86L372.85,147.71L373.30,147.21L373.89,147.11L374.61,146.50L375.34,146.07L376.00,145.60L376.55,145.25L377.06,144.60L377.53,144.20L378.00,143.79L378.48,143.02L378.95,142.26L379.40,141.24L379.80,140.68L380.15,139.67L380.45,139.40L380.73,138.63L381.00,137.61L381.27,136.64L381.53,134.93L381.78,133.43L382.00,131.93L382.20,130.38L382.37,128.88L382.53,127.33L382.70,126.14L382.88,124.33L383.06,122.86L383.24,121.32L383.40,120.16L383.54,118.54L383.66,117.19L383.77,115.78L383.90,114.10L384.05,112.54L384.21,110.99L384.36,109.41L384.50,108.04L384.61,106.75L384.69,105.16L384.78,103.86L384.90,102.46L385.05,100.88L385.23,99.21L385.42,97.55L385.60,95.84L385.78,94.53L385.96,93.37L386.13,91.87L386.30,90.57L386.46,88.93L386.61,87.55L386.75,85.89L386.90,84.61L387.05,83.21L387.19,81.51L387.34,80.35L387.50,78.54L387.69,77.00L387.89,74.61L388.10,72.56L388.30,71.16L388.48,69.72L388.66,68.41L388.83,67.72L389.00,67.13L389.15,66.26L389.30,66.03L389.45,65.57L389.60,65.58L389.77,65.72L389.94,65.94L390.12,66.65L390.30,67.51L390.48,68.66L390.66,70.03L390.83,71.39L391.00,73.04L391.16,74.32L391.31,75.99L391.45,77.10L391.60,78.81L391.75,79.97L391.90,81.61L392.05,82.97L392.20,84.48L392.35,86.06L392.51,87.61L392.66,88.80L392.80,90.65L392.93,92.07L393.06,93.35L393.18,95.09L393.30,96.62L393.40,97.92L393.50,99.57L393.60,100.73L393.70,102.28L393.82,103.62L393.94,105.26L394.07,106.47L394.20,107.90L394.34,109.70L394.49,111.00L394.65,112.57L394.80,114.18L394.95,115.46L395.10,117.18L395.25,118.60L395.40,120.00L395.55,121.61L395.69,123.14L395.84,124.34L396.00,126.18L396.17,127.51L396.34,129.13L396.52,130.58L396.70,132.19L396.89,133.63L397.08,134.97L397.28,136.40L397.50,137.76L397.73,138.70L397.96,139.49L398.22,140.31L398.50,141.00L398.82,141.68L399.16,142.52L399.53,142.94L399.90,143.68L400.26,144.26L400.63,144.87L401.03,145.48L401.50,145.84L402.05,146.03L402.66,146.66L403.32,146.92L404.00,147.27L404.67,147.61L405.34,147.71L406.10,148.15L407.00,148.15L408.23,148.27L409.69,148.42L411.05,148.28L412.00,148.43L413.50,148.51L415.00,148.53L416.50,149.00L418.00,148.58L419.50,148.53L421.00,148.86L422.50,148.82L424.00,148.61L425.50,148.79L427.00,149.24L428.50,148.53L430.00,148.59L431.50,148.43L433.00,148.64L434.50,148.49L436.00,149.38L437.50,148.71L439.00,149.39L440.50,148.53L442.00,149.30L443.50,148.91L445.00,149.09L446.50,149.06L448.00,148.67L449.50,148.63L451.00,149.08L452.50,148.53L454.00,148.41L455.50,149.17L457.00,149.03L458.50,148.66L460.00,148.92L461.50,149.31L463.00,148.68L464.50,148.52L466.00,148.82L467.50,148.57L469.00,148.77L470.50,148.43L472.00,149.16L473.50,149.21L475.00,148.77L476.50,148.78L478.00,148.66L479.50,149.35L481.00,149.28L482.50,149.06L484.00,148.57L484.50,148.90L484.50,150.60L358.20,150.60Z" fill="#ebebeb" stroke="none"/>
<path d="M358.20,150.30L358.20,128.70L359.20,147.80L360.50,148.45L362.00,148.50L363.50,148.76L365.00,148.00L366.50,147.87L368.00,148.62L369.50,148.13L371.00,148.30L372.00,148.02L372.20,148.00L372.48,147.86L372.85,147.71L373.30,147.21L373.89,147.11L374.61,146.50L375.34,146.07L376.00,145.60L376.55,145.25L377.06,144.60L377.53,144.20L378.00,143.79L378.48,143.02L378.95,142.26L379.40,141.24L379.80,140.68L380.15,139.67L380.45,139.40L380.73,138.63L381.00,137.61L381.27,136.64L381.53,134.93L381.78,133.43L382.00,131.93L382.20,130.38L382.37,128.88L382.53,127.33L382.70,126.14L382.88,124.33L383.06,122.86L383.24,121.32L383.40,120.16L383.54,118.54L383.66,117.19L383.77,115.78L383.90,114.10L384.05,112.54L384.21,110.99L384.36,109.41L384.50,108.04L384.61,106.75L384.69,105.16L384.78,103.86L384.90,102.46L385.05,100.88L385.23,99.21L385.42,97.55L385.60,95.84L385.78,94.53L385.96,93.37L386.13,91.87L386.30,90.57L386.46,88.93L386.61,87.55L386.75,85.89L386.90,84.61L387.05,83.21L387.19,81.51L387.34,80.35L387.50,78.54L387.69,77.00L387.89,74.61L388.10,72.56L388.30,71.16L388.48,69.72L388.66,68.41L388.83,67.72L389.00,67.13L389.15,66.26L389.30,66.03L389.45,65.57L389.60,65.58L389.77,65.72L389.94,65.94L390.12,66.65L390.30,67.51L390.48,68.66L390.66,70.03L390.83,71.39L391.00,73.04L391.16,74.32L391.31,75.99L391.45,77.10L391.60,78.81L391.75,79.97L391.90,81.61L392.05,82.97L392.20,84.48L392.35,86.06L392.51,87.61L392.66,88.80L392.80,90.65L392.93,92.07L393.06,93.35L393.18,95.09L393.30,96.62L393.40,97.92L393.50,99.57L393.60,100.73L393.70,102.28L393.82,103.62L393.94,105.26L394.07,106.47L394.20,107.90L394.34,109.70L394.49,111.00L394.65,112.57L394.80,114.18L394.95,115.46L395.10,117.18L395.25,118.60L395.40,120.00L395.55,121.61L395.69,123.14L395.84,124.34L396.00,126.18L396.17,127.51L396.34,129.13L396.52,130.58L396.70,132.19L396.89,133.63L397.08,134.97L397.28,136.40L397.50,137.76L397.73,138.70L397.96,139.49L398.22,140.31L398.50,141.00L398.82,141.68L399.16,142.52L399.53,142.94L399.90,143.68L400.26,144.26L400.63,144.87L401.03,145.48L401.50,145.84L402.05,146.03L402.66,146.66L403.32,146.92L404.00,147.27L404.67,147.61L405.34,147.71L406.10,148.15L407.00,148.15L408.23,148.27L409.69,148.42L411.05,148.28L412.00,148.43L413.50,148.51L415.00,148.53L416.50,149.00L418.00,148.58L419.50,148.53L421.00,148.86L422.50,148.82L424.00,148.61L425.50,148.79L427.00,149.24L428.50,148.53L430.00,148.59L431.50,148.43L433.00,148.64L434.50,148.49L436.00,149.38L437.50,148.71L439.00,149.39L440.50,148.53L442.00,149.30L443.50,148.91L445.00,149.09L446.50,149.06L448.00,148.67L449.50,148.63L451.00,149.08L452.50,148.53L454.00,148.41L455.50,149.17L457.00,149.03L458.50,148.66L460.00,148.92L461.50,149.31L463.00,148.68L464.50,148.52L466.00,148.82L467.50,148.57L469.00,148.77L470.50,148.43L472.00,149.16L473.50,149.21L475.00,148.77L476.50,148.78L478.00,148.66L479.50,149.35L481.00,149.28L482.50,149.06L484.00,148.57L484.50,148.90" fill="none" stroke="#000" stroke-width="1.2" stroke-linejoin="round" stroke-linecap="butt"/>
<path d="M358.40,150.30L358.60,135.00L359.60,148.50L361.00,149.05L362.50,148.85L364.00,149.34L365.50,148.79L367.00,149.01L368.50,148.84L370.00,148.92L371.50,149.47L373.00,148.60L374.50,148.94L376.00,148.72L377.50,148.85L379.00,149.50L380.50,148.83L382.00,149.11L383.50,148.92L385.00,149.23L386.50,148.95L388.00,148.67L389.50,148.93L391.00,148.91L392.50,149.29L394.00,149.06L395.50,148.70L397.00,149.17L398.50,148.80L400.00,149.01L401.50,148.72L403.00,148.91L404.00,149.00L405.00,148.68L405.25,149.00L405.62,148.78L406.02,148.53L406.40,148.20L406.74,148.10L407.09,147.35L407.41,147.55L407.70,146.82L407.93,146.40L408.12,145.22L408.30,144.20L408.50,143.03L408.72,141.83L408.96,140.70L409.19,139.43L409.40,137.59L409.57,136.48L409.72,135.06L409.86,133.21L410.00,131.54L410.15,130.32L410.30,129.04L410.45,127.39L410.60,125.68L410.75,124.57L410.90,122.83L411.05,121.75L411.20,119.77L411.35,118.57L411.51,116.93L411.66,115.84L411.80,113.75L411.93,112.76L412.06,110.93L412.18,109.40L412.30,107.80L412.43,106.59L412.55,105.54L412.68,104.16L412.80,102.51L412.92,100.40L413.04,98.07L413.17,96.12L413.30,94.10L413.44,91.73L413.59,90.03L413.74,87.30L413.90,85.51L414.07,83.87L414.24,82.41L414.42,81.01L414.60,79.82L414.79,78.61L414.98,77.76L415.18,76.27L415.40,75.09L415.66,73.62L415.95,72.21L416.24,71.22L416.50,70.16L416.72,68.59L416.93,67.92L417.11,66.64L417.30,66.13L417.48,65.13L417.65,64.29L417.82,63.80L418.00,64.10L418.20,64.23L418.40,64.56L418.60,65.96L418.80,66.34L418.98,67.17L419.16,67.88L419.33,69.00L419.50,70.04L419.66,71.09L419.81,71.45L419.95,72.33L420.10,72.71L420.25,73.63L420.40,73.74L420.55,74.23L420.70,74.84L420.85,76.25L421.01,77.60L421.16,78.38L421.30,79.97L421.43,81.04L421.56,82.82L421.68,84.36L421.80,85.44L421.90,87.72L422.00,89.56L422.10,91.84L422.20,94.05L422.32,96.03L422.45,98.36L422.58,100.20L422.70,102.20L422.80,103.71L422.90,105.18L423.00,106.34L423.10,107.90L423.22,109.21L423.34,111.07L423.47,112.44L423.60,113.94L423.74,115.78L423.89,116.77L424.05,118.53L424.20,120.08L424.35,121.57L424.49,123.13L424.64,124.31L424.80,126.20L424.98,127.54L425.18,128.66L425.38,130.57L425.60,132.01L425.83,133.81L426.07,135.18L426.33,136.57L426.60,137.82L426.87,138.86L427.16,139.51L427.46,140.28L427.80,141.02L428.19,141.35L428.63,142.33L429.08,142.87L429.50,143.45L429.88,144.11L430.23,144.73L430.59,145.06L431.00,145.65L431.44,145.83L431.91,146.71L432.42,146.82L433.00,147.14L433.66,147.42L434.38,147.13L435.16,147.42L436.00,147.71L437.02,147.90L438.19,147.98L439.26,148.15L440.00,148.29L441.50,148.38L443.00,147.88L444.50,147.36L446.00,148.61L447.50,147.72L449.00,147.81L450.50,148.09L452.00,148.58L453.50,149.28L455.00,148.22L456.50,149.29L458.00,149.29L459.50,147.79L461.00,147.45L462.50,147.62L464.00,148.98L465.50,148.50L467.00,149.13L468.50,149.24L470.00,148.61L471.50,148.37L473.00,147.44L474.50,147.35L476.00,148.91L477.50,148.64L479.00,148.83L480.50,148.43L482.00,148.65L483.50,148.58L484.50,148.30" fill="none" stroke="#000" stroke-width="2.8" stroke-linejoin="round" stroke-linecap="butt"/>
<rect x="357.5" y="32.5" width="127.00" height="118.10" fill="none" stroke="#000" stroke-width="1.3"/>
<line x1="353.90" y1="150.60" x2="357.50" y2="150.60" stroke="#000" stroke-width="0.9"/>
<line x1="355.10" y1="144.69" x2="357.50" y2="144.69" stroke="#000" stroke-width="0.9"/>
<line x1="355.10" y1="138.79" x2="357.50" y2="138.79" stroke="#000" stroke-width="0.9"/>
<line x1="355.10" y1="132.88" x2="357.50" y2="132.88" stroke="#000" stroke-width="0.9"/>
<line x1="353.90" y1="126.98" x2="357.50" y2="126.98" stroke="#000" stroke-width="0.9"/>
<line x1="355.10" y1="121.07" x2="357.50" y2="121.07" stroke="#000" stroke-width="0.9"/>
<line x1="355.10" y1="115.17" x2="357.50" y2="115.17" stroke="#000" stroke-width="0.9"/>
<line x1="355.10" y1="109.26" x2="357.50" y2="109.26" stroke="#000" stroke-width="0.9"/>
<line x1="353.90" y1="103.36" x2="357.50" y2="103.36" stroke="#000" stroke-width="0.9"/>
<line x1="355.10" y1="97.45" x2="357.50" y2="97.45" stroke="#000" stroke-width="0.9"/>
<line x1="355.10" y1="91.55" x2="357.50" y2="91.55" stroke="#000" stroke-width="0.9"/>
<line x1="355.10" y1="85.64" x2="357.50" y2="85.64" stroke="#000" stroke-width="0.9"/>
<line x1="353.90" y1="79.74" x2="357.50" y2="79.74" stroke="#000" stroke-width="0.9"/>
<line x1="355.10" y1="73.83" x2="357.50" y2="73.83" stroke="#000" stroke-width="0.9"/>
<line x1="355.10" y1="67.93" x2="357.50" y2="67.93" stroke="#000" stroke-width="0.9"/>
<line x1="355.10" y1="62.02" x2="357.50" y2="62.02" stroke="#000" stroke-width="0.9"/>
<line x1="353.90" y1="56.12" x2="357.50" y2="56.12" stroke="#000" stroke-width="0.9"/>
<line x1="355.10" y1="50.21" x2="357.50" y2="50.21" stroke="#000" stroke-width="0.9"/>
<line x1="355.10" y1="44.31" x2="357.50" y2="44.31" stroke="#000" stroke-width="0.9"/>
<line x1="355.10" y1="38.41" x2="357.50" y2="38.41" stroke="#000" stroke-width="0.9"/>
<line x1="353.90" y1="32.50" x2="357.50" y2="32.50" stroke="#000" stroke-width="0.9"/>
<text transform="translate(349.20 150.60) rotate(-90) scale(1.17 1)" x="0" y="0" font-family='"Liberation Sans", sans-serif' font-size="10" text-anchor="middle" stroke="#000" stroke-width="0.2">0</text>
<text transform="translate(349.20 126.98) rotate(-90) scale(1.17 1)" x="0" y="0" font-family='"Liberation Sans", sans-serif' font-size="10" text-anchor="middle" stroke="#000" stroke-width="0.2">40</text>
<text transform="translate(349.20 103.36) rotate(-90) scale(1.17 1)" x="0" y="0" font-family='"Liberation Sans", sans-serif' font-size="10" text-anchor="middle" stroke="#000" stroke-width="0.2">80</text>
<text transform="translate(349.20 79.74) rotate(-90) scale(1.17 1)" x="0" y="0" font-family='"Liberation Sans", sans-serif' font-size="10" text-anchor="middle" stroke="#000" stroke-width="0.2">120</text>
<text transform="translate(349.20 56.12) rotate(-90) scale(1.17 1)" x="0" y="0" font-family='"Liberation Sans", sans-serif' font-size="10" text-anchor="middle" stroke="#000" stroke-width="0.2">160</text>
<text transform="translate(349.20 32.50) rotate(-90) scale(1.17 1)" x="0" y="0" font-family='"Liberation Sans", sans-serif' font-size="10" text-anchor="middle" stroke="#000" stroke-width="0.2">200</text>
<line x1="357.50" y1="150.60" x2="357.50" y2="154.20" stroke="#000" stroke-width="0.9"/>
<line x1="367.06" y1="150.60" x2="367.06" y2="152.90" stroke="#000" stroke-width="0.9"/>
<line x1="372.65" y1="150.60" x2="372.65" y2="152.90" stroke="#000" stroke-width="0.9"/>
<line x1="376.62" y1="150.60" x2="376.62" y2="152.90" stroke="#000" stroke-width="0.9"/>
<line x1="379.69" y1="150.60" x2="379.69" y2="152.90" stroke="#000" stroke-width="0.9"/>
<line x1="382.21" y1="150.60" x2="382.21" y2="152.90" stroke="#000" stroke-width="0.9"/>
<line x1="384.33" y1="150.60" x2="384.33" y2="152.90" stroke="#000" stroke-width="0.9"/>
<line x1="386.17" y1="150.60" x2="386.17" y2="152.90" stroke="#000" stroke-width="0.9"/>
<line x1="387.80" y1="150.60" x2="387.80" y2="152.90" stroke="#000" stroke-width="0.9"/>
<line x1="389.25" y1="150.60" x2="389.25" y2="154.20" stroke="#000" stroke-width="0.9"/>
<line x1="398.81" y1="150.60" x2="398.81" y2="152.90" stroke="#000" stroke-width="0.9"/>
<line x1="404.40" y1="150.60" x2="404.40" y2="152.90" stroke="#000" stroke-width="0.9"/>
<line x1="408.37" y1="150.60" x2="408.37" y2="152.90" stroke="#000" stroke-width="0.9"/>
<line x1="411.44" y1="150.60" x2="411.44" y2="152.90" stroke="#000" stroke-width="0.9"/>
<line x1="413.96" y1="150.60" x2="413.96" y2="152.90" stroke="#000" stroke-width="0.9"/>
<line x1="416.08" y1="150.60" x2="416.08" y2="152.90" stroke="#000" stroke-width="0.9"/>
<line x1="417.92" y1="150.60" x2="417.92" y2="152.90" stroke="#000" stroke-width="0.9"/>
<line x1="419.55" y1="150.60" x2="419.55" y2="152.90" stroke="#000" stroke-width="0.9"/>
<line x1="421.00" y1="150.60" x2="421.00" y2="154.20" stroke="#000" stroke-width="0.9"/>
<line x1="430.56" y1="150.60" x2="430.56" y2="152.90" stroke="#000" stroke-width="0.9"/>
<line x1="436.15" y1="150.60" x2="436.15" y2="152.90" stroke="#000" stroke-width="0.9"/>
<line x1="440.12" y1="150.60" x2="440.12" y2="152.90" stroke="#000" stroke-width="0.9"/>
<line x1="443.19" y1="150.60" x2="443.19" y2="152.90" stroke="#000" stroke-width="0.9"/>
<line x1="445.71" y1="150.60" x2="445.71" y2="152.90" stroke="#000" stroke-width="0.9"/>
<line x1="447.83" y1="150.60" x2="447.83" y2="152.90" stroke="#000" stroke-width="0.9"/>
<line x1="449.67" y1="150.60" x2="449.67" y2="152.90" stroke="#000" stroke-width="0.9"/>
<line x1="451.30" y1="150.60" x2="451.30" y2="152.90" stroke="#000" stroke-width="0.9"/>
<line x1="452.75" y1="150.60" x2="452.75" y2="154.20" stroke="#000" stroke-width="0.9"/>
<line x1="462.31" y1="150.60" x2="462.31" y2="152.90" stroke="#000" stroke-width="0.9"/>
<line x1="467.90" y1="150.60" x2="467.90" y2="152.90" stroke="#000" stroke-width="0.9"/>
<line x1="471.87" y1="150.60" x2="471.87" y2="152.90" stroke="#000" stroke-width="0.9"/>
<line x1="474.94" y1="150.60" x2="474.94" y2="152.90" stroke="#000" stroke-width="0.9"/>
<line x1="477.46" y1="150.60" x2="477.46" y2="152.90" stroke="#000" stroke-width="0.9"/>
<line x1="479.58" y1="150.60" x2="479.58" y2="152.90" stroke="#000" stroke-width="0.9"/>
<line x1="481.42" y1="150.60" x2="481.42" y2="152.90" stroke="#000" stroke-width="0.9"/>
<line x1="483.05" y1="150.60" x2="483.05" y2="152.90" stroke="#000" stroke-width="0.9"/>
<line x1="484.50" y1="150.60" x2="484.50" y2="154.20" stroke="#000" stroke-width="0.9"/>
<text transform="translate(360.70 166.90) rotate(0) scale(1.22 1)" x="0" y="0" font-family='"Liberation Sans", sans-serif' font-size="8.7" text-anchor="end" stroke="#000" stroke-width="0.2">10</text>
<text transform="translate(361.00 161.20) rotate(0) scale(1.22 1)" x="0" y="0" font-family='"Liberation Sans", sans-serif' font-size="8.2" text-anchor="start" stroke="#000" stroke-width="0.2">0</text>
<text transform="translate(392.45 166.90) rotate(0) scale(1.22 1)" x="0" y="0" font-family='"Liberation Sans", sans-serif' font-size="8.7" text-anchor="end" stroke="#000" stroke-width="0.2">10</text>
<text transform="translate(392.75 161.20) rotate(0) scale(1.22 1)" x="0" y="0" font-family='"Liberation Sans", sans-serif' font-size="8.2" text-anchor="start" stroke="#000" stroke-width="0.2">1</text>
<text transform="translate(424.20 166.90) rotate(0) scale(1.22 1)" x="0" y="0" font-family='"Liberation Sans", sans-serif' font-size="8.7" text-anchor="end" stroke="#000" stroke-width="0.2">10</text>
<text transform="translate(424.50 161.20) rotate(0) scale(1.22 1)" x="0" y="0" font-family='"Liberation Sans", sans-serif' font-size="8.2" text-anchor="start" stroke="#000" stroke-width="0.2">2</text>
<text transform="translate(455.95 166.90) rotate(0) scale(1.22 1)" x="0" y="0" font-family='"Liberation Sans", sans-serif' font-size="8.7" text-anchor="end" stroke="#000" stroke-width="0.2">10</text>
<text transform="translate(456.25 161.20) rotate(0) scale(1.22 1)" x="0" y="0" font-family='"Liberation Sans", sans-serif' font-size="8.2" text-anchor="start" stroke="#000" stroke-width="0.2">3</text>
<text transform="translate(487.70 166.90) rotate(0) scale(1.22 1)" x="0" y="0" font-family='"Liberation Sans", sans-serif' font-size="8.7" text-anchor="end" stroke="#000" stroke-width="0.2">10</text>
<text transform="translate(488.00 161.20) rotate(0) scale(1.22 1)" x="0" y="0" font-family='"Liberation Sans", sans-serif' font-size="8.2" text-anchor="start" stroke="#000" stroke-width="0.2">4</text>
<text id="tAiii1" x="365.00" y="93.00" font-family='"Liberation Serif", serif' font-size="9.8" font-weight="normal" text-anchor="start" fill="#000" stroke="#000" stroke-width="0.2">IgG1</text>
<text id="tAiii2" x="439.60" y="65.40" font-family='"Liberation Serif", serif' font-size="9.8" font-weight="normal" text-anchor="start" fill="#000" stroke="#000" stroke-width="0.2">P-gp</text>
<line x1="371.00" y1="96.40" x2="378.82" y2="101.55" stroke="#000" stroke-width="1.1"/>
<polygon points="383.00,104.30 376.45,103.34 379.53,98.66" fill="#000"/>
<line x1="438.70" y1="76.50" x2="426.64" y2="85.26" stroke="#000" stroke-width="1.1"/>
<polygon points="422.60,88.20 425.81,82.41 429.10,86.94" fill="#000"/>
<path d="M96.00,332.60L100.00,331.90L101.50,331.18L103.00,331.03L104.50,330.97L106.00,331.71L107.50,331.38L109.00,331.49L110.50,331.35L112.00,331.18L113.50,331.53L115.00,331.38L116.50,331.58L118.00,331.46L119.50,331.64L121.00,331.24L122.50,330.96L124.00,330.95L125.50,331.52L127.00,330.97L128.50,331.45L130.00,331.30L131.70,330.72L132.29,331.01L133.13,330.54L134.08,330.53L135.00,330.40L135.91,330.15L136.86,329.57L137.76,329.16L138.50,328.41L139.01,328.17L139.37,327.60L139.66,327.32L140.00,326.53L140.40,326.05L140.81,325.25L141.21,324.39L141.60,323.91L141.96,322.78L142.29,321.23L142.63,319.68L143.00,318.51L143.42,317.02L143.88,315.63L144.32,313.96L144.70,312.40L144.98,311.06L145.19,309.61L145.39,308.09L145.60,306.74L145.85,305.84L146.11,304.32L146.37,302.53L146.60,301.43L146.80,299.78L146.97,298.09L147.13,297.12L147.30,295.55L147.48,294.38L147.66,292.86L147.83,291.14L148.00,290.07L148.16,288.76L148.31,287.40L148.45,285.62L148.60,284.32L148.74,283.02L148.87,281.30L149.02,280.31L149.20,278.87L149.42,277.01L149.66,275.90L149.93,274.33L150.20,272.81L150.49,271.67L150.79,270.52L151.10,268.90L151.40,267.27L151.68,266.09L151.95,264.83L152.22,263.55L152.50,262.13L152.80,260.41L153.12,259.63L153.43,258.38L153.70,257.65L153.93,258.09L154.12,259.10L154.31,260.78L154.50,261.79L154.70,263.46L154.91,264.43L155.11,266.11L155.30,267.47L155.48,268.59L155.65,269.94L155.82,271.85L156.00,273.29L156.20,274.19L156.41,275.98L156.62,277.57L156.80,278.94L156.95,280.34L157.07,281.40L157.18,283.03L157.30,284.30L157.43,285.99L157.56,287.28L157.68,288.79L157.80,290.21L157.90,291.32L158.00,292.88L158.10,293.87L158.20,295.32L158.31,297.17L158.42,298.27L158.55,299.87L158.70,301.25L158.88,302.51L159.07,304.17L159.29,305.82L159.50,306.90L159.72,308.28L159.95,309.52L160.18,310.85L160.40,312.60L160.60,313.91L160.80,315.46L161.00,316.69L161.20,318.28L161.40,319.27L161.59,320.70L161.82,322.15L162.10,323.63L162.46,325.37L162.87,326.28L163.32,327.67L163.80,328.44L164.31,329.12L164.86,329.91L165.43,330.28L166.00,330.51L166.62,330.98L167.29,331.08L167.88,331.21L168.30,331.05L169.50,331.68L171.00,331.32L172.50,331.47L173.50,331.60L173.50,333.00L96.00,333.00Z" fill="#000" stroke="none"/>
<path d="M96.00,332.60L100.00,331.90L101.50,331.18L103.00,331.03L104.50,330.97L106.00,331.71L107.50,331.38L109.00,331.49L110.50,331.35L112.00,331.18L113.50,331.53L115.00,331.38L116.50,331.58L118.00,331.46L119.50,331.64L121.00,331.24L122.50,330.96L124.00,330.95L125.50,331.52L127.00,330.97L128.50,331.45L130.00,331.30L131.70,330.72L132.29,331.01L133.13,330.54L134.08,330.53L135.00,330.40L135.91,330.15L136.86,329.57L137.76,329.16L138.50,328.41L139.01,328.17L139.37,327.60L139.66,327.32L140.00,326.53L140.40,326.05L140.81,325.25L141.21,324.39L141.60,323.91L141.96,322.78L142.29,321.23L142.63,319.68L143.00,318.51L143.42,317.02L143.88,315.63L144.32,313.96L144.70,312.40L144.98,311.06L145.19,309.61L145.39,308.09L145.60,306.74L145.85,305.84L146.11,304.32L146.37,302.53L146.60,301.43L146.80,299.78L146.97,298.09L147.13,297.12L147.30,295.55L147.48,294.38L147.66,292.86L147.83,291.14L148.00,290.07L148.16,288.76L148.31,287.40L148.45,285.62L148.60,284.32L148.74,283.02L148.87,281.30L149.02,280.31L149.20,278.87L149.42,277.01L149.66,275.90L149.93,274.33L150.20,272.81L150.49,271.67L150.79,270.52L151.10,268.90L151.40,267.27L151.68,266.09L151.95,264.83L152.22,263.55L152.50,262.13L152.80,260.41L153.12,259.63L153.43,258.38L153.70,257.65L153.93,258.09L154.12,259.10L154.31,260.78L154.50,261.79L154.70,263.46L154.91,264.43L155.11,266.11L155.30,267.47L155.48,268.59L155.65,269.94L155.82,271.85L156.00,273.29L156.20,274.19L156.41,275.98L156.62,277.57L156.80,278.94L156.95,280.34L157.07,281.40L157.18,283.03L157.30,284.30L157.43,285.99L157.56,287.28L157.68,288.79L157.80,290.21L157.90,291.32L158.00,292.88L158.10,293.87L158.20,295.32L158.31,297.17L158.42,298.27L158.55,299.87L158.70,301.25L158.88,302.51L159.07,304.17L159.29,305.82L159.50,306.90L159.72,308.28L159.95,309.52L160.18,310.85L160.40,312.60L160.60,313.91L160.80,315.46L161.00,316.69L161.20,318.28L161.40,319.27L161.59,320.70L161.82,322.15L162.10,323.63L162.46,325.37L162.87,326.28L163.32,327.67L163.80,328.44L164.31,329.12L164.86,329.91L165.43,330.28L166.00,330.51L166.62,330.98L167.29,331.08L167.88,331.21L168.30,331.05L169.50,331.68L171.00,331.32L172.50,331.47L173.50,331.60" fill="none" stroke="#000" stroke-width="1.0" stroke-linejoin="round" stroke-linecap="butt"/>
<rect x="56.3" y="227.3" width="117.20" height="105.70" fill="none" stroke="#000" stroke-width="1.3"/>
<line x1="52.70" y1="333.00" x2="56.30" y2="333.00" stroke="#000" stroke-width="0.9"/>
<line x1="53.90" y1="327.71" x2="56.30" y2="327.71" stroke="#000" stroke-width="0.9"/>
<line x1="53.90" y1="322.43" x2="56.30" y2="322.43" stroke="#000" stroke-width="0.9"/>
<line x1="53.90" y1="317.14" x2="56.30" y2="317.14" stroke="#000" stroke-width="0.9"/>
<line x1="52.70" y1="311.86" x2="56.30" y2="311.86" stroke="#000" stroke-width="0.9"/>
<line x1="53.90" y1="306.57" x2="56.30" y2="306.57" stroke="#000" stroke-width="0.9"/>
<line x1="53.90" y1="301.29" x2="56.30" y2="301.29" stroke="#000" stroke-width="0.9"/>
<line x1="53.90" y1="296.00" x2="56.30" y2="296.00" stroke="#000" stroke-width="0.9"/>
<line x1="52.70" y1="290.72" x2="56.30" y2="290.72" stroke="#000" stroke-width="0.9"/>
<line x1="53.90" y1="285.44" x2="56.30" y2="285.44" stroke="#000" stroke-width="0.9"/>
<line x1="53.90" y1="280.15" x2="56.30" y2="280.15" stroke="#000" stroke-width="0.9"/>
<line x1="53.90" y1="274.87" x2="56.30" y2="274.87" stroke="#000" stroke-width="0.9"/>
<line x1="52.70" y1="269.58" x2="56.30" y2="269.58" stroke="#000" stroke-width="0.9"/>
<line x1="53.90" y1="264.30" x2="56.30" y2="264.30" stroke="#000" stroke-width="0.9"/>
<line x1="53.90" y1="259.01" x2="56.30" y2="259.01" stroke="#000" stroke-width="0.9"/>
<line x1="53.90" y1="253.73" x2="56.30" y2="253.73" stroke="#000" stroke-width="0.9"/>
<line x1="52.70" y1="248.44" x2="56.30" y2="248.44" stroke="#000" stroke-width="0.9"/>
<line x1="53.90" y1="243.16" x2="56.30" y2="243.16" stroke="#000" stroke-width="0.9"/>
<line x1="53.90" y1="237.87" x2="56.30" y2="237.87" stroke="#000" stroke-width="0.9"/>
<line x1="53.90" y1="232.59" x2="56.30" y2="232.59" stroke="#000" stroke-width="0.9"/>
<line x1="52.70" y1="227.30" x2="56.30" y2="227.30" stroke="#000" stroke-width="0.9"/>
<text transform="translate(48.30 332.50) rotate(-90) scale(1.05 1)" x="0" y="0" font-family='"Liberation Sans", sans-serif' font-size="9.4" text-anchor="middle" stroke="#000" stroke-width="0.2">0</text>
<text transform="translate(48.30 229.30) rotate(-90) scale(1.05 1)" x="0" y="0" font-family='"Liberation Sans", sans-serif' font-size="9.4" text-anchor="middle" stroke="#000" stroke-width="0.2">200</text>
<line x1="56.30" y1="333.00" x2="56.30" y2="336.60" stroke="#000" stroke-width="0.9"/>
<line x1="65.12" y1="333.00" x2="65.12" y2="335.30" stroke="#000" stroke-width="0.9"/>
<line x1="70.28" y1="333.00" x2="70.28" y2="335.30" stroke="#000" stroke-width="0.9"/>
<line x1="73.94" y1="333.00" x2="73.94" y2="335.30" stroke="#000" stroke-width="0.9"/>
<line x1="76.78" y1="333.00" x2="76.78" y2="335.30" stroke="#000" stroke-width="0.9"/>
<line x1="79.10" y1="333.00" x2="79.10" y2="335.30" stroke="#000" stroke-width="0.9"/>
<line x1="81.06" y1="333.00" x2="81.06" y2="335.30" stroke="#000" stroke-width="0.9"/>
<line x1="82.76" y1="333.00" x2="82.76" y2="335.30" stroke="#000" stroke-width="0.9"/>
<line x1="84.26" y1="333.00" x2="84.26" y2="335.30" stroke="#000" stroke-width="0.9"/>
<line x1="85.60" y1="333.00" x2="85.60" y2="336.60" stroke="#000" stroke-width="0.9"/>
<line x1="94.42" y1="333.00" x2="94.42" y2="335.30" stroke="#000" stroke-width="0.9"/>
<line x1="99.58" y1="333.00" x2="99.58" y2="335.30" stroke="#000" stroke-width="0.9"/>
<line x1="103.24" y1="333.00" x2="103.24" y2="335.30" stroke="#000" stroke-width="0.9"/>
<line x1="106.08" y1="333.00" x2="106.08" y2="335.30" stroke="#000" stroke-width="0.9"/>
<line x1="108.40" y1="333.00" x2="108.40" y2="335.30" stroke="#000" stroke-width="0.9"/>
<line x1="110.36" y1="333.00" x2="110.36" y2="335.30" stroke="#000" stroke-width="0.9"/>
<line x1="112.06" y1="333.00" x2="112.06" y2="335.30" stroke="#000" stroke-width="0.9"/>
<line x1="113.56" y1="333.00" x2="113.56" y2="335.30" stroke="#000" stroke-width="0.9"/>
<line x1="114.90" y1="333.00" x2="114.90" y2="336.60" stroke="#000" stroke-width="0.9"/>
<line x1="123.72" y1="333.00" x2="123.72" y2="335.30" stroke="#000" stroke-width="0.9"/>
<line x1="128.88" y1="333.00" x2="128.88" y2="335.30" stroke="#000" stroke-width="0.9"/>
<line x1="132.54" y1="333.00" x2="132.54" y2="335.30" stroke="#000" stroke-width="0.9"/>
<line x1="135.38" y1="333.00" x2="135.38" y2="335.30" stroke="#000" stroke-width="0.9"/>
<line x1="137.70" y1="333.00" x2="137.70" y2="335.30" stroke="#000" stroke-width="0.9"/>
<line x1="139.66" y1="333.00" x2="139.66" y2="335.30" stroke="#000" stroke-width="0.9"/>
<line x1="141.36" y1="333.00" x2="141.36" y2="335.30" stroke="#000" stroke-width="0.9"/>
<line x1="142.86" y1="333.00" x2="142.86" y2="335.30" stroke="#000" stroke-width="0.9"/>
<line x1="144.20" y1="333.00" x2="144.20" y2="336.60" stroke="#000" stroke-width="0.9"/>
<line x1="153.02" y1="333.00" x2="153.02" y2="335.30" stroke="#000" stroke-width="0.9"/>
<line x1="158.18" y1="333.00" x2="158.18" y2="335.30" stroke="#000" stroke-width="0.9"/>
<line x1="161.84" y1="333.00" x2="161.84" y2="335.30" stroke="#000" stroke-width="0.9"/>
<line x1="164.68" y1="333.00" x2="164.68" y2="335.30" stroke="#000" stroke-width="0.9"/>
<line x1="167.00" y1="333.00" x2="167.00" y2="335.30" stroke="#000" stroke-width="0.9"/>
<line x1="168.96" y1="333.00" x2="168.96" y2="335.30" stroke="#000" stroke-width="0.9"/>
<line x1="170.66" y1="333.00" x2="170.66" y2="335.30" stroke="#000" stroke-width="0.9"/>
<line x1="172.16" y1="333.00" x2="172.16" y2="335.30" stroke="#000" stroke-width="0.9"/>
<line x1="173.50" y1="333.00" x2="173.50" y2="336.60" stroke="#000" stroke-width="0.9"/>
<text transform="translate(59.50 349.20) rotate(0) scale(1.12 1)" x="0" y="0" font-family='"Liberation Sans", sans-serif' font-size="9.2" text-anchor="end" stroke="#000" stroke-width="0.2">10</text>
<text transform="translate(59.80 343.50) rotate(0) scale(1.12 1)" x="0" y="0" font-family='"Liberation Sans", sans-serif' font-size="8.6" text-anchor="start" stroke="#000" stroke-width="0.2">0</text>
<text transform="translate(88.80 349.20) rotate(0) scale(1.12 1)" x="0" y="0" font-family='"Liberation Sans", sans-serif' font-size="9.2" text-anchor="end" stroke="#000" stroke-width="0.2">10</text>
<text transform="translate(89.10 343.50) rotate(0) scale(1.12 1)" x="0" y="0" font-family='"Liberation Sans", sans-serif' font-size="8.6" text-anchor="start" stroke="#000" stroke-width="0.2">1</text>
<text transform="translate(118.10 349.20) rotate(0) scale(1.12 1)" x="0" y="0" font-family='"Liberation Sans", sans-serif' font-size="9.2" text-anchor="end" stroke="#000" stroke-width="0.2">10</text>
<text transform="translate(118.40 343.50) rotate(0) scale(1.12 1)" x="0" y="0" font-family='"Liberation Sans", sans-serif' font-size="8.6" text-anchor="start" stroke="#000" stroke-width="0.2">2</text>
<text transform="translate(147.40 349.20) rotate(0) scale(1.12 1)" x="0" y="0" font-family='"Liberation Sans", sans-serif' font-size="9.2" text-anchor="end" stroke="#000" stroke-width="0.2">10</text>
<text transform="translate(147.70 343.50) rotate(0) scale(1.12 1)" x="0" y="0" font-family='"Liberation Sans", sans-serif' font-size="8.6" text-anchor="start" stroke="#000" stroke-width="0.2">3</text>
<text transform="translate(176.70 349.20) rotate(0) scale(1.12 1)" x="0" y="0" font-family='"Liberation Sans", sans-serif' font-size="9.2" text-anchor="end" stroke="#000" stroke-width="0.2">10</text>
<text transform="translate(177.00 343.50) rotate(0) scale(1.12 1)" x="0" y="0" font-family='"Liberation Sans", sans-serif' font-size="8.6" text-anchor="start" stroke="#000" stroke-width="0.2">4</text>
<text id="tcounts" x="38.75" y="282.30" font-family='"Liberation Serif", serif' font-size="14.3" font-weight="normal" text-anchor="middle" fill="#000" transform="rotate(-90 38.75 282.30)" stroke="#000" stroke-width="0.2">counts</text>
<text id="tBi1" x="92.20" y="270.60" font-family='"Liberation Serif", serif' font-size="12" font-weight="normal" text-anchor="start" fill="#000" stroke="#000" stroke-width="0.2">PSC-</text>
<text id="tBi2" x="96.50" y="302.90" font-family='"Liberation Serif", serif' font-size="12" font-weight="normal" text-anchor="start" fill="#000" stroke="#000" stroke-width="0.2">PSC+</text>
<line x1="122.50" y1="270.00" x2="136.18" y2="276.73" stroke="#000" stroke-width="1.15"/>
<polygon points="141.20,279.20 133.95,278.98 136.60,273.59" fill="#000"/>
<line x1="127.10" y1="302.30" x2="136.53" y2="308.52" stroke="#000" stroke-width="1.15"/>
<polygon points="141.20,311.60 134.04,310.47 137.34,305.46" fill="#000"/>
<path d="M99.8,351.6H103.3M105,351.6H106.5M113,351.6H114.5M118.3,351.6H121.7M123.5,351.6H128" stroke="#222" stroke-width="1.3"/>
<path d="M236.00,337.11L237.50,337.24L239.00,337.56L240.50,336.88L242.00,336.92L243.50,336.72L245.00,336.80L246.50,336.67L248.00,336.78L249.50,337.07L251.00,337.45L252.50,337.00L254.00,336.49L255.50,336.28L257.00,336.31L258.50,335.70L260.00,335.27L261.50,335.95L263.00,335.74L264.50,335.36L266.00,335.52L267.50,335.80L269.00,336.91L270.50,336.29L272.00,336.99L273.50,337.47L275.00,336.62L276.50,337.03L278.00,337.15L279.50,337.60L281.00,336.88L282.50,336.96L284.00,336.95L285.50,336.75L287.00,337.37L288.50,337.52L289.00,337.20L290.40,334.36L291.15,334.18L292.23,333.49L293.40,333.06L294.40,332.14L295.18,331.13L295.87,330.13L296.50,328.76L297.10,327.59L297.69,326.58L298.24,324.85L298.75,323.83L299.20,322.08L299.58,320.89L299.90,319.17L300.19,317.13L300.50,315.81L300.83,314.06L301.16,312.01L301.48,310.53L301.80,309.02L302.11,307.44L302.43,305.25L302.72,303.56L303.00,302.17L303.25,300.77L303.49,298.87L303.70,297.28L303.90,295.55L304.07,292.27L304.21,288.68L304.35,285.28L304.50,282.05L304.65,279.84L304.81,278.40L304.98,276.59L305.20,273.99L305.50,269.66L305.85,264.37L306.20,258.84L306.50,255.25L306.71,252.74L306.87,250.85L307.02,249.79L307.20,247.91L307.43,246.24L307.69,244.24L307.96,241.93L308.20,239.95L308.42,238.05L308.62,235.40L308.82,233.59L309.00,231.95L309.16,231.48L309.31,231.70L309.45,231.72L309.60,231.52L309.77,231.95L309.96,231.75L310.14,231.83L310.30,232.37L310.43,233.72L310.55,235.48L310.67,237.86L310.80,239.73L310.97,242.59L311.15,244.61L311.33,247.52L311.50,250.05L311.63,251.95L311.73,253.62L311.84,256.06L312.00,259.90L312.21,266.38L312.47,273.84L312.74,282.04L313.00,290.10L313.23,297.87L313.44,305.79L313.68,313.34L314.00,320.28L314.38,325.09L314.81,328.44L315.34,331.71L316.00,334.17L316.95,335.83L318.12,336.11L319.23,336.50L320.00,336.94L322.00,337.50" fill="none" stroke="#000" stroke-width="2.0" stroke-linejoin="round" stroke-linecap="butt"/>
<path d="M226.00,337.71L227.50,337.32L229.00,337.47L230.50,337.69L232.00,337.18L233.50,337.41L235.00,337.47L236.50,337.76L238.00,337.03L239.50,337.06L241.00,337.26L242.50,337.66L244.00,337.67L245.50,337.11L247.00,337.74L248.50,337.42L250.00,337.77L251.50,337.75L253.00,337.07L254.50,337.78L256.00,337.38L257.50,337.12L259.00,337.37L260.50,337.06L262.00,337.60L263.50,337.44L265.00,337.09L266.50,337.18L268.00,337.41L269.50,337.62L271.00,337.22L272.50,337.09L274.00,337.28L275.50,337.06L277.00,337.27L278.50,337.70L280.00,337.15L281.50,337.24L283.00,337.62L284.50,337.16L286.00,337.09L287.50,337.20L289.00,337.49L290.50,337.57L292.00,337.40L293.10,334.53L293.71,333.92L294.59,333.76L295.58,332.94L296.50,332.76L297.36,331.84L298.23,331.73L299.05,330.85L299.80,330.68L300.43,329.78L300.99,328.35L301.50,327.63L302.00,326.33L302.51,325.54L303.02,324.79L303.49,323.33L303.90,322.13L304.24,320.52L304.51,318.79L304.76,317.25L305.00,315.30L305.23,313.78L305.45,312.76L305.67,310.93L305.90,308.80L306.16,305.82L306.43,302.56L306.71,298.45L307.00,295.09L307.30,291.95L307.62,288.49L307.93,285.08L308.20,281.68L308.43,278.55L308.62,274.75L308.80,271.37L309.00,268.19L309.22,264.79L309.46,261.12L309.69,257.94L309.90,254.87L310.09,252.09L310.26,249.62L310.43,246.99L310.60,244.77L310.78,242.76L310.95,241.02L311.13,239.49L311.30,237.89L311.48,236.67L311.66,235.76L311.83,234.86L312.00,233.95L312.15,233.77L312.30,232.99L312.45,233.29L312.60,233.51L312.77,233.71L312.94,234.31L313.12,234.96L313.30,236.16L313.48,236.85L313.65,238.26L313.82,239.68L314.00,241.20L314.18,242.87L314.36,244.17L314.53,246.00L314.70,247.87L314.86,249.81L315.01,251.17L315.16,252.97L315.30,254.96L315.43,257.82L315.56,261.36L315.68,264.48L315.80,267.96L315.93,271.52L316.05,275.16L316.18,278.70L316.30,281.92L316.43,284.94L316.55,288.21L316.68,291.40L316.80,294.70L316.92,298.68L317.02,302.28L317.15,305.67L317.30,309.08L317.49,311.12L317.71,312.65L317.94,314.21L318.20,315.26L318.47,317.22L318.77,319.10L319.08,320.77L319.40,322.13L319.72,323.71L320.06,324.80L320.41,325.83L320.80,326.56L321.23,327.35L321.69,328.40L322.19,329.24L322.70,330.69L323.23,331.12L323.77,331.71L324.36,332.17L325.00,332.89L325.79,333.77L326.69,334.01L327.52,334.01L328.10,334.34L329.50,335.41L331.00,335.46L332.00,335.50L332.00,338.40L226.00,338.40Z" fill="#000" stroke="none"/>
<path d="M226.00,337.71L227.50,337.32L229.00,337.47L230.50,337.69L232.00,337.18L233.50,337.41L235.00,337.47L236.50,337.76L238.00,337.03L239.50,337.06L241.00,337.26L242.50,337.66L244.00,337.67L245.50,337.11L247.00,337.74L248.50,337.42L250.00,337.77L251.50,337.75L253.00,337.07L254.50,337.78L256.00,337.38L257.50,337.12L259.00,337.37L260.50,337.06L262.00,337.60L263.50,337.44L265.00,337.09L266.50,337.18L268.00,337.41L269.50,337.62L271.00,337.22L272.50,337.09L274.00,337.28L275.50,337.06L277.00,337.27L278.50,337.70L280.00,337.15L281.50,337.24L283.00,337.62L284.50,337.16L286.00,337.09L287.50,337.20L289.00,337.49L290.50,337.57L292.00,337.40L293.10,334.53L293.71,333.92L294.59,333.76L295.58,332.94L296.50,332.76L297.36,331.84L298.23,331.73L299.05,330.85L299.80,330.68L300.43,329.78L300.99,328.35L301.50,327.63L302.00,326.33L302.51,325.54L303.02,324.79L303.49,323.33L303.90,322.13L304.24,320.52L304.51,318.79L304.76,317.25L305.00,315.30L305.23,313.78L305.45,312.76L305.67,310.93L305.90,308.80L306.16,305.82L306.43,302.56L306.71,298.45L307.00,295.09L307.30,291.95L307.62,288.49L307.93,285.08L308.20,281.68L308.43,278.55L308.62,274.75L308.80,271.37L309.00,268.19L309.22,264.79L309.46,261.12L309.69,257.94L309.90,254.87L310.09,252.09L310.26,249.62L310.43,246.99L310.60,244.77L310.78,242.76L310.95,241.02L311.13,239.49L311.30,237.89L311.48,236.67L311.66,235.76L311.83,234.86L312.00,233.95L312.15,233.77L312.30,232.99L312.45,233.29L312.60,233.51L312.77,233.71L312.94,234.31L313.12,234.96L313.30,236.16L313.48,236.85L313.65,238.26L313.82,239.68L314.00,241.20L314.18,242.87L314.36,244.17L314.53,246.00L314.70,247.87L314.86,249.81L315.01,251.17L315.16,252.97L315.30,254.96L315.43,257.82L315.56,261.36L315.68,264.48L315.80,267.96L315.93,271.52L316.05,275.16L316.18,278.70L316.30,281.92L316.43,284.94L316.55,288.21L316.68,291.40L316.80,294.70L316.92,298.68L317.02,302.28L317.15,305.67L317.30,309.08L317.49,311.12L317.71,312.65L317.94,314.21L318.20,315.26L318.47,317.22L318.77,319.10L319.08,320.77L319.40,322.13L319.72,323.71L320.06,324.80L320.41,325.83L320.80,326.56L321.23,327.35L321.69,328.40L322.19,329.24L322.70,330.69L323.23,331.12L323.77,331.71L324.36,332.17L325.00,332.89L325.79,333.77L326.69,334.01L327.52,334.01L328.10,334.34L329.50,335.41L331.00,335.46L332.00,335.50" fill="none" stroke="#000" stroke-width="1.0" stroke-linejoin="round" stroke-linecap="butt"/>
<rect x="209.4" y="231.6" width="122.60" height="106.80" fill="none" stroke="#000" stroke-width="1.3"/>
<line x1="205.80" y1="338.40" x2="209.40" y2="338.40" stroke="#000" stroke-width="0.9"/>
<line x1="207.00" y1="333.06" x2="209.40" y2="333.06" stroke="#000" stroke-width="0.9"/>
<line x1="207.00" y1="327.72" x2="209.40" y2="327.72" stroke="#000" stroke-width="0.9"/>
<line x1="207.00" y1="322.38" x2="209.40" y2="322.38" stroke="#000" stroke-width="0.9"/>
<line x1="205.80" y1="317.04" x2="209.40" y2="317.04" stroke="#000" stroke-width="0.9"/>
<line x1="207.00" y1="311.70" x2="209.40" y2="311.70" stroke="#000" stroke-width="0.9"/>
<line x1="207.00" y1="306.36" x2="209.40" y2="306.36" stroke="#000" stroke-width="0.9"/>
<line x1="207.00" y1="301.02" x2="209.40" y2="301.02" stroke="#000" stroke-width="0.9"/>
<line x1="205.80" y1="295.68" x2="209.40" y2="295.68" stroke="#000" stroke-width="0.9"/>
<line x1="207.00" y1="290.34" x2="209.40" y2="290.34" stroke="#000" stroke-width="0.9"/>
<line x1="207.00" y1="285.00" x2="209.40" y2="285.00" stroke="#000" stroke-width="0.9"/>
<line x1="207.00" y1="279.66" x2="209.40" y2="279.66" stroke="#000" stroke-width="0.9"/>
<line x1="205.80" y1="274.32" x2="209.40" y2="274.32" stroke="#000" stroke-width="0.9"/>
<line x1="207.00" y1="268.98" x2="209.40" y2="268.98" stroke="#000" stroke-width="0.9"/>
<line x1="207.00" y1="263.64" x2="209.40" y2="263.64" stroke="#000" stroke-width="0.9"/>
<line x1="207.00" y1="258.30" x2="209.40" y2="258.30" stroke="#000" stroke-width="0.9"/>
<line x1="205.80" y1="252.96" x2="209.40" y2="252.96" stroke="#000" stroke-width="0.9"/>
<line x1="207.00" y1="247.62" x2="209.40" y2="247.62" stroke="#000" stroke-width="0.9"/>
<line x1="207.00" y1="242.28" x2="209.40" y2="242.28" stroke="#000" stroke-width="0.9"/>
<line x1="207.00" y1="236.94" x2="209.40" y2="236.94" stroke="#000" stroke-width="0.9"/>
<line x1="205.80" y1="231.60" x2="209.40" y2="231.60" stroke="#000" stroke-width="0.9"/>
<text transform="translate(203.10 338.40) rotate(-90) scale(1.0 1)" x="0" y="0" font-family='"Liberation Sans", sans-serif' font-size="9" text-anchor="middle" stroke="#000" stroke-width="0.2">0</text>
<text transform="translate(203.10 317.04) rotate(-90) scale(1.0 1)" x="0" y="0" font-family='"Liberation Sans", sans-serif' font-size="9" text-anchor="middle" stroke="#000" stroke-width="0.2">40</text>
<text transform="translate(203.10 295.68) rotate(-90) scale(1.0 1)" x="0" y="0" font-family='"Liberation Sans", sans-serif' font-size="9" text-anchor="middle" stroke="#000" stroke-width="0.2">80</text>
<text transform="translate(203.10 274.32) rotate(-90) scale(1.0 1)" x="0" y="0" font-family='"Liberation Sans", sans-serif' font-size="9" text-anchor="middle" stroke="#000" stroke-width="0.2">120</text>
<text transform="translate(203.10 252.96) rotate(-90) scale(1.0 1)" x="0" y="0" font-family='"Liberation Sans", sans-serif' font-size="9" text-anchor="middle" stroke="#000" stroke-width="0.2">160</text>
<text transform="translate(203.10 231.60) rotate(-90) scale(1.0 1)" x="0" y="0" font-family='"Liberation Sans", sans-serif' font-size="9" text-anchor="middle" stroke="#000" stroke-width="0.2">200</text>
<line x1="209.40" y1="338.40" x2="209.40" y2="342.00" stroke="#000" stroke-width="0.9"/>
<line x1="218.63" y1="338.40" x2="218.63" y2="340.70" stroke="#000" stroke-width="0.9"/>
<line x1="224.02" y1="338.40" x2="224.02" y2="340.70" stroke="#000" stroke-width="0.9"/>
<line x1="227.85" y1="338.40" x2="227.85" y2="340.70" stroke="#000" stroke-width="0.9"/>
<line x1="230.82" y1="338.40" x2="230.82" y2="340.70" stroke="#000" stroke-width="0.9"/>
<line x1="233.25" y1="338.40" x2="233.25" y2="340.70" stroke="#000" stroke-width="0.9"/>
<line x1="235.30" y1="338.40" x2="235.30" y2="340.70" stroke="#000" stroke-width="0.9"/>
<line x1="237.08" y1="338.40" x2="237.08" y2="340.70" stroke="#000" stroke-width="0.9"/>
<line x1="238.65" y1="338.40" x2="238.65" y2="340.70" stroke="#000" stroke-width="0.9"/>
<line x1="240.05" y1="338.40" x2="240.05" y2="342.00" stroke="#000" stroke-width="0.9"/>
<line x1="249.28" y1="338.40" x2="249.28" y2="340.70" stroke="#000" stroke-width="0.9"/>
<line x1="254.67" y1="338.40" x2="254.67" y2="340.70" stroke="#000" stroke-width="0.9"/>
<line x1="258.50" y1="338.40" x2="258.50" y2="340.70" stroke="#000" stroke-width="0.9"/>
<line x1="261.47" y1="338.40" x2="261.47" y2="340.70" stroke="#000" stroke-width="0.9"/>
<line x1="263.90" y1="338.40" x2="263.90" y2="340.70" stroke="#000" stroke-width="0.9"/>
<line x1="265.95" y1="338.40" x2="265.95" y2="340.70" stroke="#000" stroke-width="0.9"/>
<line x1="267.73" y1="338.40" x2="267.73" y2="340.70" stroke="#000" stroke-width="0.9"/>
<line x1="269.30" y1="338.40" x2="269.30" y2="340.70" stroke="#000" stroke-width="0.9"/>
<line x1="270.70" y1="338.40" x2="270.70" y2="342.00" stroke="#000" stroke-width="0.9"/>
<line x1="279.93" y1="338.40" x2="279.93" y2="340.70" stroke="#000" stroke-width="0.9"/>
<line x1="285.32" y1="338.40" x2="285.32" y2="340.70" stroke="#000" stroke-width="0.9"/>
<line x1="289.15" y1="338.40" x2="289.15" y2="340.70" stroke="#000" stroke-width="0.9"/>
<line x1="292.12" y1="338.40" x2="292.12" y2="340.70" stroke="#000" stroke-width="0.9"/>
<line x1="294.55" y1="338.40" x2="294.55" y2="340.70" stroke="#000" stroke-width="0.9"/>
<line x1="296.60" y1="338.40" x2="296.60" y2="340.70" stroke="#000" stroke-width="0.9"/>
<line x1="298.38" y1="338.40" x2="298.38" y2="340.70" stroke="#000" stroke-width="0.9"/>
<line x1="299.95" y1="338.40" x2="299.95" y2="340.70" stroke="#000" stroke-width="0.9"/>
<line x1="301.35" y1="338.40" x2="301.35" y2="342.00" stroke="#000" stroke-width="0.9"/>
<line x1="310.58" y1="338.40" x2="310.58" y2="340.70" stroke="#000" stroke-width="0.9"/>
<line x1="315.97" y1="338.40" x2="315.97" y2="340.70" stroke="#000" stroke-width="0.9"/>
<line x1="319.80" y1="338.40" x2="319.80" y2="340.70" stroke="#000" stroke-width="0.9"/>
<line x1="322.77" y1="338.40" x2="322.77" y2="340.70" stroke="#000" stroke-width="0.9"/>
<line x1="325.20" y1="338.40" x2="325.20" y2="340.70" stroke="#000" stroke-width="0.9"/>
<line x1="327.25" y1="338.40" x2="327.25" y2="340.70" stroke="#000" stroke-width="0.9"/>
<line x1="329.03" y1="338.40" x2="329.03" y2="340.70" stroke="#000" stroke-width="0.9"/>
<line x1="330.60" y1="338.40" x2="330.60" y2="340.70" stroke="#000" stroke-width="0.9"/>
<line x1="332.00" y1="338.40" x2="332.00" y2="342.00" stroke="#000" stroke-width="0.9"/>
<text transform="translate(212.60 351.90) rotate(0) scale(1.18 1)" x="0" y="0" font-family='"Liberation Sans", sans-serif' font-size="8.2" text-anchor="end" stroke="#000" stroke-width="0.2">10</text>
<text transform="translate(212.90 347.30) rotate(0) scale(1.18 1)" x="0" y="0" font-family='"Liberation Sans", sans-serif' font-size="7.6" text-anchor="start" stroke="#000" stroke-width="0.2">0</text>
<text transform="translate(243.25 351.90) rotate(0) scale(1.18 1)" x="0" y="0" font-family='"Liberation Sans", sans-serif' font-size="8.2" text-anchor="end" stroke="#000" stroke-width="0.2">10</text>
<text transform="translate(243.55 347.30) rotate(0) scale(1.18 1)" x="0" y="0" font-family='"Liberation Sans", sans-serif' font-size="7.6" text-anchor="start" stroke="#000" stroke-width="0.2">1</text>
<text transform="translate(273.90 351.90) rotate(0) scale(1.18 1)" x="0" y="0" font-family='"Liberation Sans", sans-serif' font-size="8.2" text-anchor="end" stroke="#000" stroke-width="0.2">10</text>
<text transform="translate(274.20 347.30) rotate(0) scale(1.18 1)" x="0" y="0" font-family='"Liberation Sans", sans-serif' font-size="7.6" text-anchor="start" stroke="#000" stroke-width="0.2">2</text>
<text transform="translate(304.55 351.90) rotate(0) scale(1.18 1)" x="0" y="0" font-family='"Liberation Sans", sans-serif' font-size="8.2" text-anchor="end" stroke="#000" stroke-width="0.2">10</text>
<text transform="translate(304.85 347.30) rotate(0) scale(1.18 1)" x="0" y="0" font-family='"Liberation Sans", sans-serif' font-size="7.6" text-anchor="start" stroke="#000" stroke-width="0.2">3</text>
<text transform="translate(335.20 351.90) rotate(0) scale(1.18 1)" x="0" y="0" font-family='"Liberation Sans", sans-serif' font-size="8.2" text-anchor="end" stroke="#000" stroke-width="0.2">10</text>
<text transform="translate(335.50 347.30) rotate(0) scale(1.18 1)" x="0" y="0" font-family='"Liberation Sans", sans-serif' font-size="7.6" text-anchor="start" stroke="#000" stroke-width="0.2">4</text>
<text id="tBii1" x="256.20" y="265.80" font-family='"Liberation Serif", serif' font-size="12" font-weight="normal" text-anchor="start" fill="#000" stroke="#000" stroke-width="0.2">PSC-</text>
<text id="tBii2" x="260.30" y="298.60" font-family='"Liberation Serif", serif' font-size="12" font-weight="normal" text-anchor="start" fill="#000" stroke="#000" stroke-width="0.2">PSC+</text>
<line x1="287.00" y1="265.00" x2="300.17" y2="271.44" stroke="#000" stroke-width="1.15"/>
<polygon points="305.20,273.90 297.95,273.70 300.59,268.31" fill="#000"/>
<line x1="291.70" y1="297.40" x2="299.90" y2="303.10" stroke="#000" stroke-width="1.15"/>
<polygon points="304.50,306.30 297.37,305.00 300.79,300.07" fill="#000"/>
<path d="M369.00,332.25L370.50,332.53L372.00,332.29L373.50,332.80L375.00,332.61L376.50,332.24L378.00,332.24L379.00,332.60L380.00,332.15L380.93,332.18L382.27,331.81L383.72,331.92L385.00,331.09L386.07,330.59L387.07,329.96L387.98,328.61L388.75,327.78L389.36,326.25L389.83,324.56L390.22,322.95L390.60,321.30L390.97,319.60L391.29,318.42L391.59,316.50L391.90,315.29L392.22,313.65L392.53,311.59L392.83,310.17L393.10,308.74L393.33,307.38L393.53,305.43L393.72,304.13L393.90,302.42L394.08,301.11L394.25,299.63L394.42,297.97L394.60,296.07L394.79,294.84L394.99,293.09L395.19,291.76L395.40,289.98L395.60,288.67L395.81,287.14L396.02,285.47L396.25,283.95L396.50,282.42L396.77,280.77L397.04,279.09L397.30,278.29L397.54,276.85L397.77,275.58L397.99,274.96L398.20,274.25L398.41,273.60L398.61,273.70L398.80,272.98L399.00,273.34L399.20,273.12L399.39,273.01L399.59,273.35L399.80,273.77L400.03,274.00L400.26,274.90L400.51,275.55L400.80,276.79L401.15,278.21L401.54,280.07L401.93,282.20L402.25,284.01L402.49,285.47L402.67,286.96L402.83,288.48L403.00,290.19L403.19,291.82L403.38,293.32L403.56,294.89L403.75,295.97L403.94,297.76L404.12,299.13L404.31,300.99L404.50,302.55L404.68,304.10L404.85,305.84L405.03,307.02L405.25,308.89L405.50,310.36L405.78,311.70L406.08,313.72L406.40,314.73L406.74,316.54L407.09,318.15L407.47,319.74L407.90,321.54L408.37,322.90L408.89,324.76L409.43,325.99L410.00,327.49L410.57,328.47L411.16,329.80L411.80,330.54L412.50,331.42L413.39,331.43L414.41,331.84L415.35,332.21L416.00,331.71L417.50,332.20L419.00,331.97L420.50,332.34L422.00,331.94L423.50,332.17L425.00,332.67L426.50,331.79L428.00,332.02L429.50,332.38L431.00,331.79L432.50,331.85L434.00,332.53L435.50,332.68L437.00,332.02L438.50,331.89L440.00,332.67L441.50,332.03L443.00,332.30L444.50,332.31L446.00,332.33L447.50,332.62L449.00,332.66L450.50,332.39L452.00,332.52L453.50,332.49L455.00,332.34L456.50,332.13L458.00,331.93L459.50,331.97L461.00,332.63L462.50,332.40L464.00,331.81L465.50,332.61L467.00,331.97L468.50,332.39L470.00,332.16L471.50,331.97L473.00,331.91L474.50,332.28L476.00,332.11L477.50,332.32L479.00,332.40L480.50,332.52L482.00,332.55L483.50,332.33L485.00,332.67L485.50,332.20" fill="none" stroke="#000" stroke-width="2.1" stroke-linejoin="round" stroke-linecap="butt"/>
<path d="M400.00,332.89L401.50,332.33L403.00,332.74L404.50,332.59L406.00,332.87L407.50,332.54L409.00,332.85L410.50,332.40L412.00,332.90L413.50,332.55L415.00,332.41L416.50,332.51L418.00,332.68L419.00,332.60L420.00,331.75L421.28,330.78L423.14,330.30L425.11,329.46L426.70,329.08L427.78,328.22L428.59,327.84L429.29,327.50L430.00,326.93L430.75,326.75L431.47,326.22L432.15,325.57L432.80,324.53L433.40,324.35L433.96,323.26L434.49,322.42L435.00,321.53L435.49,320.70L435.94,320.15L436.38,318.88L436.80,317.79L437.20,317.06L437.59,315.21L437.95,313.77L438.30,312.46L438.63,311.45L438.94,309.91L439.23,308.41L439.50,307.16L439.75,305.55L439.97,303.71L440.18,302.47L440.40,300.64L440.63,298.60L440.87,297.00L441.10,295.77L441.30,293.92L441.46,292.09L441.58,290.48L441.69,289.03L441.80,286.84L441.89,285.10L441.95,282.58L442.04,280.96L442.20,279.54L442.46,279.23L442.78,279.52L443.14,280.05L443.50,280.74L443.86,280.66L444.24,280.71L444.62,281.46L445.00,281.75L445.37,281.92L445.73,281.80L446.10,282.02L446.50,282.46L446.95,282.13L447.45,282.12L447.92,282.53L448.30,282.84L448.55,283.91L448.73,284.98L448.86,286.87L449.00,288.00L449.16,289.28L449.31,290.68L449.45,292.13L449.60,293.97L449.75,295.59L449.91,297.26L450.06,299.06L450.20,300.56L450.33,302.16L450.45,303.95L450.57,305.49L450.70,307.22L450.84,308.70L450.99,310.20L451.14,311.26L451.30,312.26L451.47,313.92L451.64,315.26L451.82,316.94L452.00,318.20L452.19,319.08L452.39,319.98L452.60,320.64L452.80,321.37L452.97,322.50L453.12,323.28L453.31,323.96L453.60,325.06L454.03,326.00L454.56,327.02L455.13,327.71L455.70,329.08L456.20,329.16L456.66,329.66L457.22,329.95L458.00,330.31L459.04,330.93L460.26,331.11L461.63,331.08L463.10,331.32L464.86,331.82L466.87,331.70L468.72,331.75L470.00,332.18L471.50,332.47L473.00,332.63L474.50,332.37L476.00,332.53L477.50,332.66L479.00,332.41L480.50,332.54L482.00,332.54L483.50,332.61L485.00,332.12L485.50,332.40L485.50,333.70L400.00,333.70Z" fill="#000" stroke="none"/>
<path d="M400.00,332.89L401.50,332.33L403.00,332.74L404.50,332.59L406.00,332.87L407.50,332.54L409.00,332.85L410.50,332.40L412.00,332.90L413.50,332.55L415.00,332.41L416.50,332.51L418.00,332.68L419.00,332.60L420.00,331.75L421.28,330.78L423.14,330.30L425.11,329.46L426.70,329.08L427.78,328.22L428.59,327.84L429.29,327.50L430.00,326.93L430.75,326.75L431.47,326.22L432.15,325.57L432.80,324.53L433.40,324.35L433.96,323.26L434.49,322.42L435.00,321.53L435.49,320.70L435.94,320.15L436.38,318.88L436.80,317.79L437.20,317.06L437.59,315.21L437.95,313.77L438.30,312.46L438.63,311.45L438.94,309.91L439.23,308.41L439.50,307.16L439.75,305.55L439.97,303.71L440.18,302.47L440.40,300.64L440.63,298.60L440.87,297.00L441.10,295.77L441.30,293.92L441.46,292.09L441.58,290.48L441.69,289.03L441.80,286.84L441.89,285.10L441.95,282.58L442.04,280.96L442.20,279.54L442.46,279.23L442.78,279.52L443.14,280.05L443.50,280.74L443.86,280.66L444.24,280.71L444.62,281.46L445.00,281.75L445.37,281.92L445.73,281.80L446.10,282.02L446.50,282.46L446.95,282.13L447.45,282.12L447.92,282.53L448.30,282.84L448.55,283.91L448.73,284.98L448.86,286.87L449.00,288.00L449.16,289.28L449.31,290.68L449.45,292.13L449.60,293.97L449.75,295.59L449.91,297.26L450.06,299.06L450.20,300.56L450.33,302.16L450.45,303.95L450.57,305.49L450.70,307.22L450.84,308.70L450.99,310.20L451.14,311.26L451.30,312.26L451.47,313.92L451.64,315.26L451.82,316.94L452.00,318.20L452.19,319.08L452.39,319.98L452.60,320.64L452.80,321.37L452.97,322.50L453.12,323.28L453.31,323.96L453.60,325.06L454.03,326.00L454.56,327.02L455.13,327.71L455.70,329.08L456.20,329.16L456.66,329.66L457.22,329.95L458.00,330.31L459.04,330.93L460.26,331.11L461.63,331.08L463.10,331.32L464.86,331.82L466.87,331.70L468.72,331.75L470.00,332.18L471.50,332.47L473.00,332.63L474.50,332.37L476.00,332.53L477.50,332.66L479.00,332.41L480.50,332.54L482.00,332.54L483.50,332.61L485.00,332.12L485.50,332.40" fill="none" stroke="#000" stroke-width="1.0" stroke-linejoin="round" stroke-linecap="butt"/>
<rect x="368.2" y="228.2" width="117.30" height="105.50" fill="none" stroke="#000" stroke-width="1.3"/>
<line x1="364.60" y1="333.70" x2="368.20" y2="333.70" stroke="#000" stroke-width="0.9"/>
<line x1="365.80" y1="328.43" x2="368.20" y2="328.43" stroke="#000" stroke-width="0.9"/>
<line x1="365.80" y1="323.15" x2="368.20" y2="323.15" stroke="#000" stroke-width="0.9"/>
<line x1="365.80" y1="317.88" x2="368.20" y2="317.88" stroke="#000" stroke-width="0.9"/>
<line x1="364.60" y1="312.60" x2="368.20" y2="312.60" stroke="#000" stroke-width="0.9"/>
<line x1="365.80" y1="307.32" x2="368.20" y2="307.32" stroke="#000" stroke-width="0.9"/>
<line x1="365.80" y1="302.05" x2="368.20" y2="302.05" stroke="#000" stroke-width="0.9"/>
<line x1="365.80" y1="296.77" x2="368.20" y2="296.77" stroke="#000" stroke-width="0.9"/>
<line x1="364.60" y1="291.50" x2="368.20" y2="291.50" stroke="#000" stroke-width="0.9"/>
<line x1="365.80" y1="286.22" x2="368.20" y2="286.22" stroke="#000" stroke-width="0.9"/>
<line x1="365.80" y1="280.95" x2="368.20" y2="280.95" stroke="#000" stroke-width="0.9"/>
<line x1="365.80" y1="275.68" x2="368.20" y2="275.68" stroke="#000" stroke-width="0.9"/>
<line x1="364.60" y1="270.40" x2="368.20" y2="270.40" stroke="#000" stroke-width="0.9"/>
<line x1="365.80" y1="265.12" x2="368.20" y2="265.12" stroke="#000" stroke-width="0.9"/>
<line x1="365.80" y1="259.85" x2="368.20" y2="259.85" stroke="#000" stroke-width="0.9"/>
<line x1="365.80" y1="254.57" x2="368.20" y2="254.57" stroke="#000" stroke-width="0.9"/>
<line x1="364.60" y1="249.30" x2="368.20" y2="249.30" stroke="#000" stroke-width="0.9"/>
<line x1="365.80" y1="244.02" x2="368.20" y2="244.02" stroke="#000" stroke-width="0.9"/>
<line x1="365.80" y1="238.75" x2="368.20" y2="238.75" stroke="#000" stroke-width="0.9"/>
<line x1="365.80" y1="233.47" x2="368.20" y2="233.47" stroke="#000" stroke-width="0.9"/>
<line x1="364.60" y1="228.20" x2="368.20" y2="228.20" stroke="#000" stroke-width="0.9"/>
<text transform="translate(361.90 333.70) rotate(-90) scale(1.0 1)" x="0" y="0" font-family='"Liberation Sans", sans-serif' font-size="9" text-anchor="middle" stroke="#000" stroke-width="0.2">0</text>
<text transform="translate(361.90 312.60) rotate(-90) scale(1.0 1)" x="0" y="0" font-family='"Liberation Sans", sans-serif' font-size="9" text-anchor="middle" stroke="#000" stroke-width="0.2">40</text>
<text transform="translate(361.90 291.50) rotate(-90) scale(1.0 1)" x="0" y="0" font-family='"Liberation Sans", sans-serif' font-size="9" text-anchor="middle" stroke="#000" stroke-width="0.2">80</text>
<text transform="translate(361.90 270.40) rotate(-90) scale(1.0 1)" x="0" y="0" font-family='"Liberation Sans", sans-serif' font-size="9" text-anchor="middle" stroke="#000" stroke-width="0.2">120</text>
<text transform="translate(361.90 249.30) rotate(-90) scale(1.0 1)" x="0" y="0" font-family='"Liberation Sans", sans-serif' font-size="9" text-anchor="middle" stroke="#000" stroke-width="0.2">160</text>
<text transform="translate(361.90 228.20) rotate(-90) scale(1.0 1)" x="0" y="0" font-family='"Liberation Sans", sans-serif' font-size="9" text-anchor="middle" stroke="#000" stroke-width="0.2">200</text>
<line x1="368.20" y1="333.70" x2="368.20" y2="337.30" stroke="#000" stroke-width="0.9"/>
<line x1="377.03" y1="333.70" x2="377.03" y2="336.00" stroke="#000" stroke-width="0.9"/>
<line x1="382.19" y1="333.70" x2="382.19" y2="336.00" stroke="#000" stroke-width="0.9"/>
<line x1="385.86" y1="333.70" x2="385.86" y2="336.00" stroke="#000" stroke-width="0.9"/>
<line x1="388.70" y1="333.70" x2="388.70" y2="336.00" stroke="#000" stroke-width="0.9"/>
<line x1="391.02" y1="333.70" x2="391.02" y2="336.00" stroke="#000" stroke-width="0.9"/>
<line x1="392.98" y1="333.70" x2="392.98" y2="336.00" stroke="#000" stroke-width="0.9"/>
<line x1="394.68" y1="333.70" x2="394.68" y2="336.00" stroke="#000" stroke-width="0.9"/>
<line x1="396.18" y1="333.70" x2="396.18" y2="336.00" stroke="#000" stroke-width="0.9"/>
<line x1="397.52" y1="333.70" x2="397.52" y2="337.30" stroke="#000" stroke-width="0.9"/>
<line x1="406.35" y1="333.70" x2="406.35" y2="336.00" stroke="#000" stroke-width="0.9"/>
<line x1="411.52" y1="333.70" x2="411.52" y2="336.00" stroke="#000" stroke-width="0.9"/>
<line x1="415.18" y1="333.70" x2="415.18" y2="336.00" stroke="#000" stroke-width="0.9"/>
<line x1="418.02" y1="333.70" x2="418.02" y2="336.00" stroke="#000" stroke-width="0.9"/>
<line x1="420.34" y1="333.70" x2="420.34" y2="336.00" stroke="#000" stroke-width="0.9"/>
<line x1="422.31" y1="333.70" x2="422.31" y2="336.00" stroke="#000" stroke-width="0.9"/>
<line x1="424.01" y1="333.70" x2="424.01" y2="336.00" stroke="#000" stroke-width="0.9"/>
<line x1="425.51" y1="333.70" x2="425.51" y2="336.00" stroke="#000" stroke-width="0.9"/>
<line x1="426.85" y1="333.70" x2="426.85" y2="337.30" stroke="#000" stroke-width="0.9"/>
<line x1="435.68" y1="333.70" x2="435.68" y2="336.00" stroke="#000" stroke-width="0.9"/>
<line x1="440.84" y1="333.70" x2="440.84" y2="336.00" stroke="#000" stroke-width="0.9"/>
<line x1="444.51" y1="333.70" x2="444.51" y2="336.00" stroke="#000" stroke-width="0.9"/>
<line x1="447.35" y1="333.70" x2="447.35" y2="336.00" stroke="#000" stroke-width="0.9"/>
<line x1="449.67" y1="333.70" x2="449.67" y2="336.00" stroke="#000" stroke-width="0.9"/>
<line x1="451.63" y1="333.70" x2="451.63" y2="336.00" stroke="#000" stroke-width="0.9"/>
<line x1="453.33" y1="333.70" x2="453.33" y2="336.00" stroke="#000" stroke-width="0.9"/>
<line x1="454.83" y1="333.70" x2="454.83" y2="336.00" stroke="#000" stroke-width="0.9"/>
<line x1="456.18" y1="333.70" x2="456.18" y2="337.30" stroke="#000" stroke-width="0.9"/>
<line x1="465.00" y1="333.70" x2="465.00" y2="336.00" stroke="#000" stroke-width="0.9"/>
<line x1="470.17" y1="333.70" x2="470.17" y2="336.00" stroke="#000" stroke-width="0.9"/>
<line x1="473.83" y1="333.70" x2="473.83" y2="336.00" stroke="#000" stroke-width="0.9"/>
<line x1="476.67" y1="333.70" x2="476.67" y2="336.00" stroke="#000" stroke-width="0.9"/>
<line x1="478.99" y1="333.70" x2="478.99" y2="336.00" stroke="#000" stroke-width="0.9"/>
<line x1="480.96" y1="333.70" x2="480.96" y2="336.00" stroke="#000" stroke-width="0.9"/>
<line x1="482.66" y1="333.70" x2="482.66" y2="336.00" stroke="#000" stroke-width="0.9"/>
<line x1="484.16" y1="333.70" x2="484.16" y2="336.00" stroke="#000" stroke-width="0.9"/>
<line x1="485.50" y1="333.70" x2="485.50" y2="337.30" stroke="#000" stroke-width="0.9"/>
<text transform="translate(371.40 348.70) rotate(0) scale(1.14 1)" x="0" y="0" font-family='"Liberation Sans", sans-serif' font-size="8.6" text-anchor="end" stroke="#000" stroke-width="0.2">10</text>
<text transform="translate(371.70 343.50) rotate(0) scale(1.14 1)" x="0" y="0" font-family='"Liberation Sans", sans-serif' font-size="8.0" text-anchor="start" stroke="#000" stroke-width="0.2">0</text>
<text transform="translate(400.72 348.70) rotate(0) scale(1.14 1)" x="0" y="0" font-family='"Liberation Sans", sans-serif' font-size="8.6" text-anchor="end" stroke="#000" stroke-width="0.2">10</text>
<text transform="translate(401.02 343.50) rotate(0) scale(1.14 1)" x="0" y="0" font-family='"Liberation Sans", sans-serif' font-size="8.0" text-anchor="start" stroke="#000" stroke-width="0.2">1</text>
<text transform="translate(430.05 348.70) rotate(0) scale(1.14 1)" x="0" y="0" font-family='"Liberation Sans", sans-serif' font-size="8.6" text-anchor="end" stroke="#000" stroke-width="0.2">10</text>
<text transform="translate(430.35 343.50) rotate(0) scale(1.14 1)" x="0" y="0" font-family='"Liberation Sans", sans-serif' font-size="8.0" text-anchor="start" stroke="#000" stroke-width="0.2">2</text>
<text transform="translate(459.38 348.70) rotate(0) scale(1.14 1)" x="0" y="0" font-family='"Liberation Sans", sans-serif' font-size="8.6" text-anchor="end" stroke="#000" stroke-width="0.2">10</text>
<text transform="translate(459.68 343.50) rotate(0) scale(1.14 1)" x="0" y="0" font-family='"Liberation Sans", sans-serif' font-size="8.0" text-anchor="start" stroke="#000" stroke-width="0.2">3</text>
<text transform="translate(488.70 348.70) rotate(0) scale(1.14 1)" x="0" y="0" font-family='"Liberation Sans", sans-serif' font-size="8.6" text-anchor="end" stroke="#000" stroke-width="0.2">10</text>
<text transform="translate(489.00 343.50) rotate(0) scale(1.14 1)" x="0" y="0" font-family='"Liberation Sans", sans-serif' font-size="8.0" text-anchor="start" stroke="#000" stroke-width="0.2">4</text>
<text id="tBiii1" x="387.50" y="255.60" font-family='"Liberation Serif", serif' font-size="12" font-weight="normal" text-anchor="start" fill="#000" stroke="#000" stroke-width="0.2">PSC-</text>
<text id="tBiii2" x="443.60" y="264.90" font-family='"Liberation Serif", serif' font-size="12" font-weight="normal" text-anchor="start" fill="#000" stroke="#000" stroke-width="0.2">PSC+</text>
<line x1="404.80" y1="260.60" x2="402.36" y2="267.98" stroke="#000" stroke-width="1.15"/>
<polygon points="400.60,273.30 399.82,266.09 405.52,267.98" fill="#000"/>
<line x1="456.10" y1="269.90" x2="453.37" y2="278.09" stroke="#000" stroke-width="1.15"/>
<polygon points="451.60,283.40 450.84,276.19 456.53,278.09" fill="#000"/>
<line x1="46.2" y1="411.8" x2="46.2" y2="563.8" stroke="#a6a6a6" stroke-width="1"/>
<line x1="46.2" y1="563.8" x2="265" y2="563.8" stroke="#9a9a9a" stroke-width="1.1"/>
<line x1="43.20" y1="563.80" x2="46.20" y2="563.80" stroke="#a6a6a6" stroke-width="1"/>
<text x="35.80" y="566.76" font-family='"Liberation Sans", sans-serif' font-size="10.5" font-weight="normal" text-anchor="end" fill="#1e1e1e" stroke="#1e1e1e" stroke-width="0.15">0</text>
<line x1="43.20" y1="525.80" x2="46.20" y2="525.80" stroke="#a6a6a6" stroke-width="1"/>
<text x="35.80" y="528.76" font-family='"Liberation Sans", sans-serif' font-size="10.5" font-weight="normal" text-anchor="end" fill="#1e1e1e" stroke="#1e1e1e" stroke-width="0.15">10</text>
<line x1="43.20" y1="487.80" x2="46.20" y2="487.80" stroke="#a6a6a6" stroke-width="1"/>
<text x="35.80" y="490.76" font-family='"Liberation Sans", sans-serif' font-size="10.5" font-weight="normal" text-anchor="end" fill="#1e1e1e" stroke="#1e1e1e" stroke-width="0.15">20</text>
<line x1="43.20" y1="449.80" x2="46.20" y2="449.80" stroke="#a6a6a6" stroke-width="1"/>
<text x="35.80" y="452.76" font-family='"Liberation Sans", sans-serif' font-size="10.5" font-weight="normal" text-anchor="end" fill="#1e1e1e" stroke="#1e1e1e" stroke-width="0.15">30</text>
<line x1="43.20" y1="411.80" x2="46.20" y2="411.80" stroke="#a6a6a6" stroke-width="1"/>
<text x="35.80" y="414.76" font-family='"Liberation Sans", sans-serif' font-size="10.5" font-weight="normal" text-anchor="end" fill="#1e1e1e" stroke="#1e1e1e" stroke-width="0.15">40</text>
<line x1="89.00" y1="563.80" x2="89.00" y2="566.30" stroke="#a6a6a6" stroke-width="1"/>
<line x1="132.00" y1="563.80" x2="132.00" y2="566.30" stroke="#a6a6a6" stroke-width="1"/>
<line x1="176.00" y1="563.80" x2="176.00" y2="566.30" stroke="#a6a6a6" stroke-width="1"/>
<line x1="219.00" y1="563.80" x2="219.00" y2="566.30" stroke="#a6a6a6" stroke-width="1"/>
<text id="tCy" x="9.55" y="471.10" font-family='"Liberation Serif", serif' font-size="13" font-weight="normal" text-anchor="middle" fill="#000" transform="rotate(-90 9.55 471.10)" stroke="#000" stroke-width="0.15"><tspan font-family='"Liberation Sans", sans-serif' font-size="12.2">Annexin</tspan> V (+) / PI (-) (%)</text>
<rect x="58.80" y="535.00" width="18.00" height="28.60" fill="#fff" stroke="#1a1a1a" stroke-width="1.55"/>
<line x1="67.80" y1="531.20" x2="67.80" y2="539.40" stroke="#1a1a1a" stroke-width="1.4"/>
<line x1="64.30" y1="531.20" x2="71.30" y2="531.20" stroke="#1a1a1a" stroke-width="1.5"/>
<line x1="64.30" y1="539.40" x2="71.30" y2="539.40" stroke="#1a1a1a" stroke-width="1.5"/>
<rect x="102.50" y="536.00" width="18.50" height="27.60" fill="#161616" stroke="#1a1a1a" stroke-width="1.55"/>
<line x1="111.75" y1="529.00" x2="111.75" y2="536.00" stroke="#1a1a1a" stroke-width="1.4"/>
<line x1="108.25" y1="529.00" x2="115.25" y2="529.00" stroke="#1a1a1a" stroke-width="1.5"/>
<rect x="146.00" y="497.70" width="17.60" height="65.90" fill="url(#pgray)" stroke="#1a1a1a" stroke-width="1.55"/>
<line x1="154.80" y1="490.40" x2="154.80" y2="505.00" stroke="#1a1a1a" stroke-width="1.4"/>
<line x1="151.30" y1="490.40" x2="158.30" y2="490.40" stroke="#1a1a1a" stroke-width="1.5"/>
<line x1="151.30" y1="505.00" x2="158.30" y2="505.00" stroke="#1a1a1a" stroke-width="1.5"/>
<rect x="189.00" y="520.00" width="18.50" height="43.60" fill="url(#phatch)" stroke="#1a1a1a" stroke-width="1.55"/>
<line x1="198.25" y1="512.70" x2="198.25" y2="526.00" stroke="#1a1a1a" stroke-width="1.4"/>
<line x1="194.75" y1="512.70" x2="201.75" y2="512.70" stroke="#1a1a1a" stroke-width="1.5"/>
<line x1="194.75" y1="526.00" x2="201.75" y2="526.00" stroke="#1a1a1a" stroke-width="1.5"/>
<rect x="233.00" y="493.60" width="18.40" height="70.00" fill="url(#phoriz)" stroke="#1a1a1a" stroke-width="1.55"/>
<line x1="242.20" y1="484.00" x2="242.20" y2="504.00" stroke="#1a1a1a" stroke-width="1.4"/>
<line x1="238.70" y1="484.00" x2="245.70" y2="484.00" stroke="#1a1a1a" stroke-width="1.5"/>
<line x1="238.70" y1="504.00" x2="245.70" y2="504.00" stroke="#1a1a1a" stroke-width="1.5"/>
<path d="M153.1,454.3L153.1,436.4L193.3,436.4L193.3,454.3" fill="none" stroke="#858585" stroke-width="1.2"/>
<text id="s1" x="176.05" y="439.05" font-family='"Liberation Sans", sans-serif' font-size="17.5" font-weight="normal" text-anchor="middle" fill="#111">*</text>
<path d="M197.6,454.3L197.6,436.4L237.4,436.4L237.4,454.3" fill="none" stroke="#858585" stroke-width="1.2"/>
<text id="s2" x="220.50" y="439.05" font-family='"Liberation Sans", sans-serif' font-size="17.5" font-weight="normal" text-anchor="middle" fill="#111">*</text>
<line x1="305.4" y1="411.5" x2="305.4" y2="563.6" stroke="#a6a6a6" stroke-width="1"/>
<line x1="305.4" y1="563.6" x2="520" y2="563.6" stroke="#9a9a9a" stroke-width="1.1"/>
<line x1="302.40" y1="563.60" x2="305.40" y2="563.60" stroke="#a6a6a6" stroke-width="1"/>
<text x="296.00" y="566.66" font-family='"Liberation Sans", sans-serif' font-size="10.5" font-weight="normal" text-anchor="end" fill="#1e1e1e" stroke="#1e1e1e" stroke-width="0.15">0</text>
<line x1="302.40" y1="525.58" x2="305.40" y2="525.58" stroke="#a6a6a6" stroke-width="1"/>
<text x="296.00" y="528.63" font-family='"Liberation Sans", sans-serif' font-size="10.5" font-weight="normal" text-anchor="end" fill="#1e1e1e" stroke="#1e1e1e" stroke-width="0.15">10</text>
<line x1="302.40" y1="487.55" x2="305.40" y2="487.55" stroke="#a6a6a6" stroke-width="1"/>
<text x="296.00" y="490.61" font-family='"Liberation Sans", sans-serif' font-size="10.5" font-weight="normal" text-anchor="end" fill="#1e1e1e" stroke="#1e1e1e" stroke-width="0.15">20</text>
<line x1="302.40" y1="449.52" x2="305.40" y2="449.52" stroke="#a6a6a6" stroke-width="1"/>
<text x="296.00" y="452.58" font-family='"Liberation Sans", sans-serif' font-size="10.5" font-weight="normal" text-anchor="end" fill="#1e1e1e" stroke="#1e1e1e" stroke-width="0.15">30</text>
<line x1="302.40" y1="411.50" x2="305.40" y2="411.50" stroke="#a6a6a6" stroke-width="1"/>
<text x="296.00" y="414.56" font-family='"Liberation Sans", sans-serif' font-size="10.5" font-weight="normal" text-anchor="end" fill="#1e1e1e" stroke="#1e1e1e" stroke-width="0.15">40</text>
<line x1="347.00" y1="563.60" x2="347.00" y2="566.10" stroke="#a6a6a6" stroke-width="1"/>
<line x1="390.00" y1="563.60" x2="390.00" y2="566.10" stroke="#a6a6a6" stroke-width="1"/>
<line x1="433.00" y1="563.60" x2="433.00" y2="566.10" stroke="#a6a6a6" stroke-width="1"/>
<line x1="476.00" y1="563.60" x2="476.00" y2="566.10" stroke="#a6a6a6" stroke-width="1"/>
<rect x="317.30" y="522.40" width="19.00" height="41.10" fill="#fff" stroke="#1a1a1a" stroke-width="1.55"/>
<line x1="326.80" y1="513.50" x2="326.80" y2="531.00" stroke="#1a1a1a" stroke-width="1.4"/>
<line x1="323.30" y1="513.50" x2="330.30" y2="513.50" stroke="#1a1a1a" stroke-width="1.5"/>
<line x1="323.30" y1="531.00" x2="330.30" y2="531.00" stroke="#1a1a1a" stroke-width="1.5"/>
<rect x="360.40" y="523.00" width="18.30" height="40.50" fill="#161616" stroke="#1a1a1a" stroke-width="1.55"/>
<line x1="369.55" y1="511.60" x2="369.55" y2="523.00" stroke="#1a1a1a" stroke-width="1.4"/>
<line x1="366.05" y1="511.60" x2="373.05" y2="511.60" stroke="#1a1a1a" stroke-width="1.5"/>
<rect x="403.40" y="473.00" width="17.60" height="90.50" fill="url(#pgray)" stroke="#1a1a1a" stroke-width="1.55"/>
<line x1="412.20" y1="461.60" x2="412.20" y2="483.70" stroke="#1a1a1a" stroke-width="1.4"/>
<line x1="408.70" y1="461.60" x2="415.70" y2="461.60" stroke="#1a1a1a" stroke-width="1.5"/>
<line x1="408.70" y1="483.70" x2="415.70" y2="483.70" stroke="#1a1a1a" stroke-width="1.5"/>
<rect x="445.40" y="499.30" width="18.30" height="64.20" fill="url(#phatch)" stroke="#1a1a1a" stroke-width="1.55"/>
<line x1="454.55" y1="490.40" x2="454.55" y2="510.00" stroke="#1a1a1a" stroke-width="1.4"/>
<line x1="451.05" y1="490.40" x2="458.05" y2="490.40" stroke="#1a1a1a" stroke-width="1.5"/>
<line x1="451.05" y1="510.00" x2="458.05" y2="510.00" stroke="#1a1a1a" stroke-width="1.5"/>
<rect x="488.20" y="467.00" width="18.30" height="96.50" fill="url(#phoriz)" stroke="#1a1a1a" stroke-width="1.55"/>
<line x1="497.35" y1="458.00" x2="497.35" y2="477.50" stroke="#1a1a1a" stroke-width="1.4"/>
<line x1="493.85" y1="458.00" x2="500.85" y2="458.00" stroke="#1a1a1a" stroke-width="1.5"/>
<line x1="493.85" y1="477.50" x2="500.85" y2="477.50" stroke="#1a1a1a" stroke-width="1.5"/>
<path d="M407.7,445.6L407.7,427.7L448.1,427.7L448.1,445.6" fill="none" stroke="#858585" stroke-width="1.2"/>
<text id="s3" x="430.70" y="430.75" font-family='"Liberation Sans", sans-serif' font-size="17.5" font-weight="normal" text-anchor="middle" fill="#111">*</text>
<path d="M451.9,445.6L451.9,427.7L492.7,427.7L492.7,445.6" fill="none" stroke="#858585" stroke-width="1.2"/>
<text id="s4" x="475.30" y="430.75" font-family='"Liberation Sans", sans-serif' font-size="17.5" font-weight="normal" text-anchor="middle" fill="#111">*</text>
<line x1="45.8" y1="609.6" x2="45.8" y2="768.6" stroke="#a6a6a6" stroke-width="1"/>
<line x1="45.8" y1="768.6" x2="257" y2="768.6" stroke="#9a9a9a" stroke-width="1.1"/>
<line x1="42.80" y1="768.60" x2="45.80" y2="768.60" stroke="#a6a6a6" stroke-width="1"/>
<text x="34.50" y="772.67" font-family='"Liberation Sans", sans-serif' font-size="11.1" font-weight="normal" text-anchor="end" fill="#1e1e1e" stroke="#1e1e1e" stroke-width="0.15">0</text>
<line x1="42.80" y1="742.10" x2="45.80" y2="742.10" stroke="#a6a6a6" stroke-width="1"/>
<text x="34.50" y="746.17" font-family='"Liberation Sans", sans-serif' font-size="11.1" font-weight="normal" text-anchor="end" fill="#1e1e1e" stroke="#1e1e1e" stroke-width="0.15">20</text>
<line x1="42.80" y1="715.60" x2="45.80" y2="715.60" stroke="#a6a6a6" stroke-width="1"/>
<text x="34.50" y="719.67" font-family='"Liberation Sans", sans-serif' font-size="11.1" font-weight="normal" text-anchor="end" fill="#1e1e1e" stroke="#1e1e1e" stroke-width="0.15">40</text>
<line x1="42.80" y1="689.10" x2="45.80" y2="689.10" stroke="#a6a6a6" stroke-width="1"/>
<text x="34.50" y="693.17" font-family='"Liberation Sans", sans-serif' font-size="11.1" font-weight="normal" text-anchor="end" fill="#1e1e1e" stroke="#1e1e1e" stroke-width="0.15">60</text>
<line x1="42.80" y1="662.60" x2="45.80" y2="662.60" stroke="#a6a6a6" stroke-width="1"/>
<text x="34.50" y="666.67" font-family='"Liberation Sans", sans-serif' font-size="11.1" font-weight="normal" text-anchor="end" fill="#1e1e1e" stroke="#1e1e1e" stroke-width="0.15">80</text>
<line x1="42.80" y1="636.10" x2="45.80" y2="636.10" stroke="#a6a6a6" stroke-width="1"/>
<text x="34.50" y="640.17" font-family='"Liberation Sans", sans-serif' font-size="11.1" font-weight="normal" text-anchor="end" fill="#1e1e1e" stroke="#1e1e1e" stroke-width="0.15">100</text>
<line x1="42.80" y1="609.60" x2="45.80" y2="609.60" stroke="#a6a6a6" stroke-width="1"/>
<text x="34.50" y="613.67" font-family='"Liberation Sans", sans-serif' font-size="11.1" font-weight="normal" text-anchor="end" fill="#1e1e1e" stroke="#1e1e1e" stroke-width="0.15">120</text>
<line x1="88.00" y1="768.60" x2="88.00" y2="771.10" stroke="#a6a6a6" stroke-width="1"/>
<line x1="131.00" y1="768.60" x2="131.00" y2="771.10" stroke="#a6a6a6" stroke-width="1"/>
<line x1="174.00" y1="768.60" x2="174.00" y2="771.10" stroke="#a6a6a6" stroke-width="1"/>
<line x1="216.00" y1="768.60" x2="216.00" y2="771.10" stroke="#a6a6a6" stroke-width="1"/>
<text id="tDy" x="9.40" y="684.40" font-family='"Liberation Serif", serif' font-size="13.5" font-weight="normal" text-anchor="middle" fill="#000" transform="rotate(-90 9.40 684.40)" stroke="#000" stroke-width="0.15">Viability ( % of control)</text>
<rect x="57.60" y="636.30" width="17.40" height="132.50" fill="#fff" stroke="#1a1a1a" stroke-width="1.55"/>
<rect x="99.50" y="635.00" width="19.50" height="133.80" fill="#161616" stroke="#1a1a1a" stroke-width="1.55"/>
<line x1="109.25" y1="627.50" x2="109.25" y2="635.00" stroke="#1a1a1a" stroke-width="1.4"/>
<line x1="105.75" y1="627.50" x2="112.75" y2="627.50" stroke="#1a1a1a" stroke-width="1.5"/>
<rect x="143.00" y="672.90" width="18.00" height="95.90" fill="url(#pgray)" stroke="#1a1a1a" stroke-width="1.55"/>
<line x1="152.00" y1="666.20" x2="152.00" y2="679.00" stroke="#1a1a1a" stroke-width="1.4"/>
<line x1="148.50" y1="666.20" x2="155.50" y2="666.20" stroke="#1a1a1a" stroke-width="1.5"/>
<line x1="148.50" y1="679.00" x2="155.50" y2="679.00" stroke="#1a1a1a" stroke-width="1.5"/>
<rect x="184.60" y="652.20" width="19.70" height="116.60" fill="url(#phatch)" stroke="#1a1a1a" stroke-width="1.55"/>
<line x1="194.45" y1="647.30" x2="194.45" y2="659.00" stroke="#1a1a1a" stroke-width="1.4"/>
<line x1="190.95" y1="647.30" x2="197.95" y2="647.30" stroke="#1a1a1a" stroke-width="1.5"/>
<line x1="190.95" y1="659.00" x2="197.95" y2="659.00" stroke="#1a1a1a" stroke-width="1.5"/>
<rect x="228.50" y="672.40" width="17.50" height="96.40" fill="url(#phoriz)" stroke="#1a1a1a" stroke-width="1.55"/>
<line x1="237.25" y1="667.50" x2="237.25" y2="679.00" stroke="#1a1a1a" stroke-width="1.4"/>
<line x1="233.75" y1="667.50" x2="240.75" y2="667.50" stroke="#1a1a1a" stroke-width="1.5"/>
<line x1="233.75" y1="679.00" x2="240.75" y2="679.00" stroke="#1a1a1a" stroke-width="1.5"/>
<path d="M151.3,634.6L151.3,616.9L191.5,616.9L191.5,634.6" fill="none" stroke="#858585" stroke-width="1.2"/>
<text id="s5" x="174.30" y="619.80" font-family='"Liberation Sans", sans-serif' font-size="17.5" font-weight="normal" text-anchor="middle" fill="#111">*</text>
<path d="M195.6,634.6L195.6,616.9L236,616.9L236,634.6" fill="none" stroke="#858585" stroke-width="1.2"/>
<text id="s6" x="218.95" y="619.80" font-family='"Liberation Sans", sans-serif' font-size="17.5" font-weight="normal" text-anchor="middle" fill="#111">*</text>
<line x1="304.3" y1="614.2" x2="304.3" y2="765.6" stroke="#a6a6a6" stroke-width="1"/>
<line x1="304.3" y1="765.6" x2="511" y2="765.6" stroke="#9a9a9a" stroke-width="1.1"/>
<line x1="301.30" y1="765.60" x2="304.30" y2="765.60" stroke="#a6a6a6" stroke-width="1"/>
<text x="291.90" y="768.77" font-family='"Liberation Sans", sans-serif' font-size="11.1" font-weight="normal" text-anchor="end" fill="#1e1e1e" stroke="#1e1e1e" stroke-width="0.15">0</text>
<line x1="301.30" y1="740.37" x2="304.30" y2="740.37" stroke="#a6a6a6" stroke-width="1"/>
<text x="291.90" y="743.54" font-family='"Liberation Sans", sans-serif' font-size="11.1" font-weight="normal" text-anchor="end" fill="#1e1e1e" stroke="#1e1e1e" stroke-width="0.15">20</text>
<line x1="301.30" y1="715.13" x2="304.30" y2="715.13" stroke="#a6a6a6" stroke-width="1"/>
<text x="291.90" y="718.31" font-family='"Liberation Sans", sans-serif' font-size="11.1" font-weight="normal" text-anchor="end" fill="#1e1e1e" stroke="#1e1e1e" stroke-width="0.15">40</text>
<line x1="301.30" y1="689.90" x2="304.30" y2="689.90" stroke="#a6a6a6" stroke-width="1"/>
<text x="291.90" y="693.07" font-family='"Liberation Sans", sans-serif' font-size="11.1" font-weight="normal" text-anchor="end" fill="#1e1e1e" stroke="#1e1e1e" stroke-width="0.15">60</text>
<line x1="301.30" y1="664.67" x2="304.30" y2="664.67" stroke="#a6a6a6" stroke-width="1"/>
<text x="291.90" y="667.84" font-family='"Liberation Sans", sans-serif' font-size="11.1" font-weight="normal" text-anchor="end" fill="#1e1e1e" stroke="#1e1e1e" stroke-width="0.15">80</text>
<line x1="301.30" y1="639.43" x2="304.30" y2="639.43" stroke="#a6a6a6" stroke-width="1"/>
<text x="291.90" y="642.61" font-family='"Liberation Sans", sans-serif' font-size="11.1" font-weight="normal" text-anchor="end" fill="#1e1e1e" stroke="#1e1e1e" stroke-width="0.15">100</text>
<line x1="301.30" y1="614.20" x2="304.30" y2="614.20" stroke="#a6a6a6" stroke-width="1"/>
<text x="291.90" y="617.37" font-family='"Liberation Sans", sans-serif' font-size="11.1" font-weight="normal" text-anchor="end" fill="#1e1e1e" stroke="#1e1e1e" stroke-width="0.15">120</text>
<line x1="345.00" y1="765.60" x2="345.00" y2="768.10" stroke="#a6a6a6" stroke-width="1"/>
<line x1="387.00" y1="765.60" x2="387.00" y2="768.10" stroke="#a6a6a6" stroke-width="1"/>
<line x1="428.00" y1="765.60" x2="428.00" y2="768.10" stroke="#a6a6a6" stroke-width="1"/>
<line x1="469.00" y1="765.60" x2="469.00" y2="768.10" stroke="#a6a6a6" stroke-width="1"/>
<rect x="316.40" y="639.40" width="17.70" height="126.20" fill="#fff" stroke="#1a1a1a" stroke-width="1.55"/>
<rect x="357.60" y="633.00" width="18.00" height="132.60" fill="#161616" stroke="#1a1a1a" stroke-width="1.55"/>
<line x1="366.60" y1="628.70" x2="366.60" y2="633.00" stroke="#1a1a1a" stroke-width="1.4"/>
<line x1="363.10" y1="628.70" x2="370.10" y2="628.70" stroke="#1a1a1a" stroke-width="1.5"/>
<rect x="398.80" y="673.70" width="17.00" height="91.90" fill="url(#pgray)" stroke="#1a1a1a" stroke-width="1.55"/>
<line x1="407.30" y1="667.50" x2="407.30" y2="679.00" stroke="#1a1a1a" stroke-width="1.4"/>
<line x1="403.80" y1="667.50" x2="410.80" y2="667.50" stroke="#1a1a1a" stroke-width="1.5"/>
<line x1="403.80" y1="679.00" x2="410.80" y2="679.00" stroke="#1a1a1a" stroke-width="1.5"/>
<rect x="439.20" y="657.30" width="18.10" height="108.30" fill="url(#phatch)" stroke="#1a1a1a" stroke-width="1.55"/>
<line x1="448.25" y1="654.00" x2="448.25" y2="660.20" stroke="#1a1a1a" stroke-width="1.4"/>
<line x1="444.75" y1="654.00" x2="451.75" y2="654.00" stroke="#1a1a1a" stroke-width="1.5"/>
<line x1="444.75" y1="660.20" x2="451.75" y2="660.20" stroke="#1a1a1a" stroke-width="1.5"/>
<rect x="480.40" y="678.80" width="18.10" height="86.80" fill="url(#phoriz)" stroke="#1a1a1a" stroke-width="1.55"/>
<line x1="489.45" y1="671.50" x2="489.45" y2="685.80" stroke="#1a1a1a" stroke-width="1.4"/>
<line x1="485.95" y1="671.50" x2="492.95" y2="671.50" stroke="#1a1a1a" stroke-width="1.5"/>
<line x1="485.95" y1="685.80" x2="492.95" y2="685.80" stroke="#1a1a1a" stroke-width="1.5"/>
<path d="M396.3,638.7L396.3,620.8L436.5,620.8L436.5,638.7" fill="none" stroke="#858585" stroke-width="1.2"/>
<text id="s7" x="419.30" y="624.30" font-family='"Liberation Sans", sans-serif' font-size="17.5" font-weight="normal" text-anchor="middle" fill="#111">*</text>
<path d="M440.6,638.7L440.6,620.8L481,620.8L481,638.7" fill="none" stroke="#858585" stroke-width="1.2"/>
<text id="s8" x="463.75" y="624.30" font-family='"Liberation Sans", sans-serif' font-size="17.5" font-weight="normal" text-anchor="middle" fill="#111">*</text>
<text id="x1" x="48.75" y="823.75" font-family='"Liberation Serif", serif' font-size="9.5" font-weight="normal" text-anchor="start" fill="#000" transform="rotate(-45 48.75 823.75)" stroke="#000" stroke-width="0.15">Control</text>
<text id="x2" x="73.50" y="832.00" font-family='"Liberation Serif", serif' font-size="9.5" font-weight="normal" text-anchor="start" fill="#000" transform="rotate(-45 73.50 832.00)" stroke="#000" stroke-width="0.15">PSC</text>
<text id="x3" x="96.50" y="810.25" font-family='"Liberation Serif", serif' font-size="9.5" font-weight="normal" text-anchor="start" fill="#000" transform="rotate(-45 96.50 810.25)" stroke="#000" stroke-width="0.15">(48h)</text>
<text id="x4" x="122.00" y="830.50" font-family='"Liberation Serif", serif' font-size="9.5" font-weight="normal" text-anchor="start" fill="#000" transform="rotate(-45 122.00 830.50)" stroke="#000" stroke-width="0.15">DOX&#160;&#160;(48h)</text>
<text id="x5" x="140.75" y="839.50" font-family='"Liberation Serif", serif' font-size="9.5" font-weight="normal" text-anchor="start" fill="#000" transform="rotate(-45 140.75 839.50)" stroke="#000" stroke-width="0.15">ATRA/FK228 (72h)</text>
<text id="x6" x="158.50" y="838.75" font-family='"Liberation Serif", serif' font-size="9.5" font-weight="normal" text-anchor="start" fill="#000" transform="rotate(-45 158.50 838.75)" stroke="#000" stroke-width="0.15">+ DOX (48h)</text>
<text id="x7" x="175.50" y="844.75" font-family='"Liberation Serif", serif' font-size="9.5" font-weight="normal" text-anchor="start" fill="#000" transform="rotate(-45 175.50 844.75)" stroke="#000" stroke-width="0.15">ATRA/FK228/PSC (72 h)</text>
<text id="x8" x="200.00" y="838.50" font-family='"Liberation Serif", serif' font-size="9.5" font-weight="normal" text-anchor="start" fill="#000" transform="rotate(-45 200.00 838.50)" stroke="#000" stroke-width="0.15">+ DOX (48h)</text>
<text id="x9" x="307.50" y="818.75" font-family='"Liberation Serif", serif' font-size="9.5" font-weight="normal" text-anchor="start" fill="#000" transform="rotate(-45 307.50 818.75)" stroke="#000" stroke-width="0.15">Control</text>
<text id="x10" x="331.62" y="827.75" font-family='"Liberation Serif", serif' font-size="9.5" font-weight="normal" text-anchor="start" fill="#000" transform="rotate(-45 331.62 827.75)" stroke="#000" stroke-width="0.15">PSC</text>
<text id="x11" x="354.50" y="806.25" font-family='"Liberation Serif", serif' font-size="9.5" font-weight="normal" text-anchor="start" fill="#000" transform="rotate(-45 354.50 806.25)" stroke="#000" stroke-width="0.15">(72h)</text>
<text id="x12" x="377.75" y="824.75" font-family='"Liberation Serif", serif' font-size="9.5" font-weight="normal" text-anchor="start" fill="#000" transform="rotate(-45 377.75 824.75)" stroke="#000" stroke-width="0.15">DOX&#160;&#160;(72h)</text>
<text id="x13" x="395.25" y="832.75" font-family='"Liberation Serif", serif' font-size="9.5" font-weight="normal" text-anchor="start" fill="#000" transform="rotate(-45 395.25 832.75)" stroke="#000" stroke-width="0.15">ATRA/FK228 (96h)</text>
<text id="x14" x="413.00" y="833.00" font-family='"Liberation Serif", serif' font-size="9.5" font-weight="normal" text-anchor="start" fill="#000" transform="rotate(-45 413.00 833.00)" stroke="#000" stroke-width="0.15">+ DOX (72h)</text>
<text id="x15" x="428.50" y="840.50" font-family='"Liberation Serif", serif' font-size="9.5" font-weight="normal" text-anchor="start" fill="#000" transform="rotate(-45 428.50 840.50)" stroke="#000" stroke-width="0.15">ATRA/FK228/PSC (96h)</text>
<text id="x16" x="452.75" y="833.25" font-family='"Liberation Serif", serif' font-size="9.5" font-weight="normal" text-anchor="start" fill="#000" transform="rotate(-45 452.75 833.25)" stroke="#000" stroke-width="0.15">+ DOX (72h)</text>
</svg>
</body></html>
